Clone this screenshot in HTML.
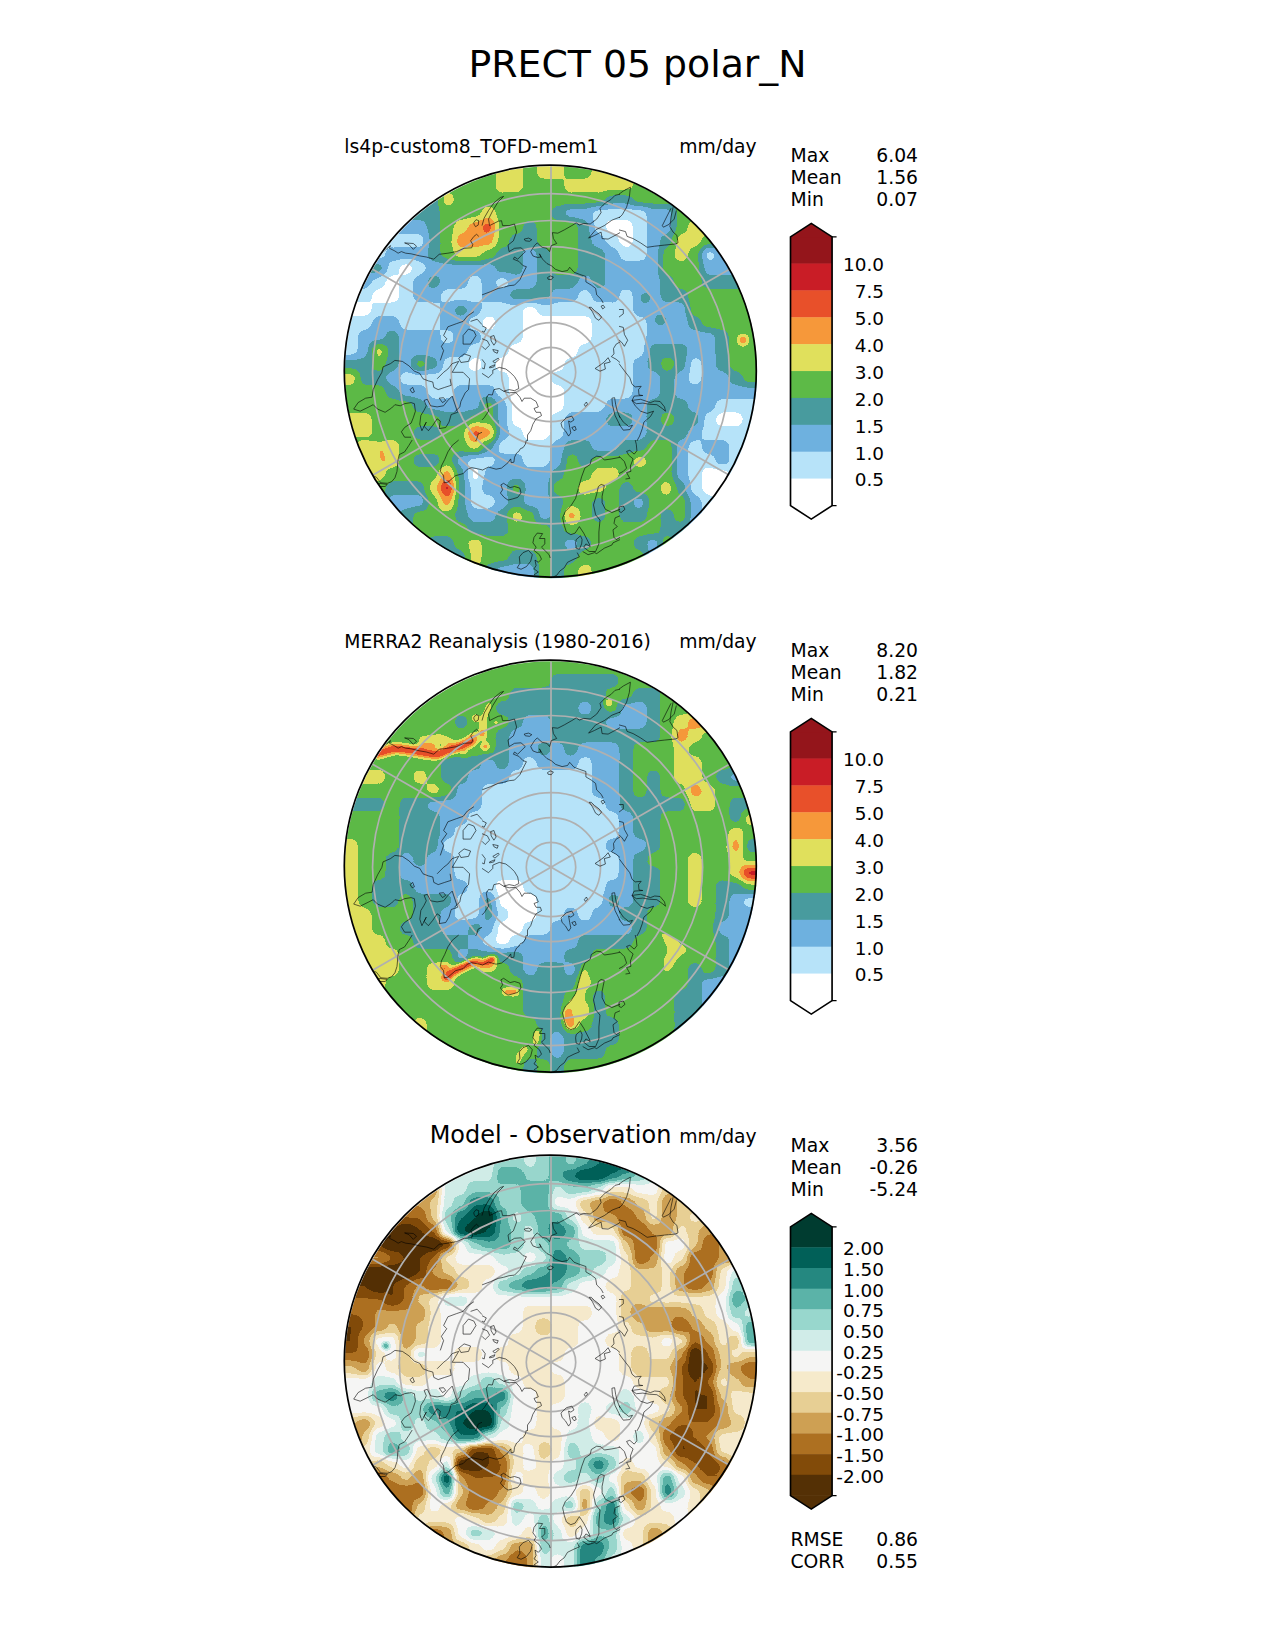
<!DOCTYPE html><html><head><meta charset="utf-8"><title>PRECT 05 polar_N</title>
<style>html,body{margin:0;padding:0;background:#fff}svg{display:block}text{font-family:"DejaVu Sans","Liberation Sans",sans-serif;fill:#000}</style></head><body>
<svg width="1275" height="1650" viewBox="0 0 1275 1650">
<rect width="1275" height="1650" fill="#fff"/>
<defs>
<filter id="f1b" x="0" y="0" width="1" height="1" color-interpolation-filters="sRGB"><feGaussianBlur stdDeviation="3.6"/></filter><filter id="f1" x="0" y="0" width="1" height="1" color-interpolation-filters="sRGB"><feGaussianBlur stdDeviation="2.2"/><feComponentTransfer><feFuncR type="discrete" tableValues="1.0000 0.7176 0.4314 0.2824 0.3647 0.8784 0.9647 0.9098 0.7882 0.5804"/><feFuncG type="discrete" tableValues="1.0000 0.8902 0.6941 0.6078 0.7294 0.8784 0.5961 0.3137 0.1137 0.0824"/><feFuncB type="discrete" tableValues="1.0000 0.9765 0.8745 0.6196 0.2784 0.3608 0.2275 0.1647 0.1490 0.1059"/><feFuncA type="linear" slope="0" intercept="1"/></feComponentTransfer></filter>
<filter id="f2b" x="0" y="0" width="1" height="1" color-interpolation-filters="sRGB"><feGaussianBlur stdDeviation="3.6"/></filter><filter id="f2" x="0" y="0" width="1" height="1" color-interpolation-filters="sRGB"><feGaussianBlur stdDeviation="2.2"/><feComponentTransfer><feFuncR type="discrete" tableValues="1.0000 0.7176 0.4314 0.2824 0.3647 0.8784 0.9647 0.9098 0.7882 0.5804"/><feFuncG type="discrete" tableValues="1.0000 0.8902 0.6941 0.6078 0.7294 0.8784 0.5961 0.3137 0.1137 0.0824"/><feFuncB type="discrete" tableValues="1.0000 0.9765 0.8745 0.6196 0.2784 0.3608 0.2275 0.1647 0.1490 0.1059"/><feFuncA type="linear" slope="0" intercept="1"/></feComponentTransfer></filter>
<filter id="f3b" x="0" y="0" width="1" height="1" color-interpolation-filters="sRGB"><feGaussianBlur stdDeviation="3.4"/></filter><filter id="f3" x="0" y="0" width="1" height="1" color-interpolation-filters="sRGB"><feGaussianBlur stdDeviation="2.2"/><feComponentTransfer><feFuncR type="linear" slope="1.1000" intercept="-0.0500"/><feFuncG type="linear" slope="1.1000" intercept="-0.0500"/><feFuncB type="linear" slope="1.1000" intercept="-0.0500"/></feComponentTransfer><feComponentTransfer><feFuncR type="discrete" tableValues="0.3294 0.5098 0.6784 0.8078 0.9059 0.9647 0.9608 0.8157 0.5961 0.3569 0.1451 0.0039 0.0000"/><feFuncG type="discrete" tableValues="0.1882 0.2941 0.4392 0.6275 0.8118 0.9176 0.9608 0.9255 0.8431 0.7020 0.5333 0.3765 0.2353"/><feFuncB type="discrete" tableValues="0.0196 0.0353 0.1294 0.3255 0.5804 0.7961 0.9569 0.9098 0.8039 0.6588 0.5020 0.3451 0.1882"/><feFuncA type="linear" slope="0" intercept="1"/></feComponentTransfer></filter>
<clipPath id="c1"><circle cx="551.00" cy="372.15" r="206.00"/></clipPath>
<clipPath id="c2"><circle cx="551.00" cy="867.15" r="206.00"/></clipPath>
<clipPath id="c3"><circle cx="551.00" cy="1362.15" r="206.00"/></clipPath>
</defs>
<text x="637.5" y="77.3" text-anchor="middle" style="font-size:37.8px">PRECT 05 polar_N</text>
<g clip-path="url(#c1)">
<g filter="url(#f1)">
<g filter="url(#f1b)">
<rect x="314.25" y="135.00" width="44.05" height="44.05" fill="#404040"/>
<rect x="358.00" y="135.00" width="82.80" height="44.05" fill="#595959"/>
<rect x="440.50" y="135.00" width="55.30" height="44.05" fill="#737373"/>
<rect x="495.50" y="135.00" width="27.80" height="44.05" fill="#8c8c8c"/>
<rect x="523.00" y="135.00" width="14.05" height="44.05" fill="#737373"/>
<rect x="536.75" y="135.00" width="27.80" height="44.05" fill="#8c8c8c"/>
<rect x="564.25" y="135.00" width="27.80" height="44.05" fill="#737373"/>
<rect x="591.75" y="135.00" width="55.30" height="44.05" fill="#8c8c8c"/>
<rect x="646.75" y="135.00" width="96.55" height="44.05" fill="#737373"/>
<rect x="743.00" y="135.00" width="44.05" height="44.05" fill="#8c8c8c"/>
<rect x="314.25" y="178.75" width="57.80" height="14.05" fill="#404040"/>
<rect x="371.75" y="178.75" width="69.05" height="14.05" fill="#595959"/>
<rect x="440.50" y="178.75" width="55.30" height="14.05" fill="#737373"/>
<rect x="495.50" y="178.75" width="27.80" height="14.05" fill="#8c8c8c"/>
<rect x="523.00" y="178.75" width="41.55" height="14.05" fill="#737373"/>
<rect x="564.25" y="178.75" width="69.05" height="14.05" fill="#8c8c8c"/>
<rect x="633.00" y="178.75" width="96.55" height="14.05" fill="#737373"/>
<rect x="729.25" y="178.75" width="57.80" height="14.05" fill="#8c8c8c"/>
<rect x="314.25" y="192.50" width="44.05" height="14.05" fill="#262626"/>
<rect x="358.00" y="192.50" width="27.80" height="14.05" fill="#404040"/>
<rect x="385.50" y="192.50" width="55.30" height="14.05" fill="#595959"/>
<rect x="440.50" y="192.50" width="14.05" height="14.05" fill="#8c8c8c"/>
<rect x="454.25" y="192.50" width="151.55" height="14.05" fill="#737373"/>
<rect x="605.50" y="192.50" width="27.80" height="14.05" fill="#595959"/>
<rect x="633.00" y="192.50" width="82.80" height="14.05" fill="#737373"/>
<rect x="715.50" y="192.50" width="27.80" height="14.05" fill="#8c8c8c"/>
<rect x="743.00" y="192.50" width="44.05" height="14.05" fill="#737373"/>
<rect x="314.25" y="206.25" width="57.80" height="14.05" fill="#262626"/>
<rect x="371.75" y="206.25" width="27.80" height="14.05" fill="#404040"/>
<rect x="399.25" y="206.25" width="41.55" height="14.05" fill="#595959"/>
<rect x="440.50" y="206.25" width="41.55" height="14.05" fill="#737373"/>
<rect x="481.75" y="206.25" width="14.05" height="14.05" fill="#8c8c8c"/>
<rect x="495.50" y="206.25" width="55.30" height="14.05" fill="#737373"/>
<rect x="550.50" y="206.25" width="14.05" height="14.05" fill="#595959"/>
<rect x="564.25" y="206.25" width="27.80" height="14.05" fill="#404040"/>
<rect x="591.75" y="206.25" width="55.30" height="14.05" fill="#262626"/>
<rect x="646.75" y="206.25" width="27.80" height="14.05" fill="#404040"/>
<rect x="674.25" y="206.25" width="27.80" height="14.05" fill="#737373"/>
<rect x="701.75" y="206.25" width="27.80" height="14.05" fill="#8c8c8c"/>
<rect x="729.25" y="206.25" width="57.80" height="14.05" fill="#737373"/>
<rect x="314.25" y="220.00" width="71.55" height="14.05" fill="#262626"/>
<rect x="385.50" y="220.00" width="41.55" height="14.05" fill="#404040"/>
<rect x="426.75" y="220.00" width="14.05" height="14.05" fill="#595959"/>
<rect x="440.50" y="220.00" width="14.05" height="14.05" fill="#737373"/>
<rect x="454.25" y="220.00" width="14.05" height="14.05" fill="#8c8c8c"/>
<rect x="468.00" y="220.00" width="14.05" height="14.05" fill="#a6a6a6"/>
<rect x="481.75" y="220.00" width="14.05" height="14.05" fill="#bfbfbf"/>
<rect x="495.50" y="220.00" width="27.80" height="14.05" fill="#737373"/>
<rect x="523.00" y="220.00" width="14.05" height="14.05" fill="#595959"/>
<rect x="536.75" y="220.00" width="41.55" height="14.05" fill="#737373"/>
<rect x="578.00" y="220.00" width="14.05" height="14.05" fill="#595959"/>
<rect x="591.75" y="220.00" width="14.05" height="14.05" fill="#262626"/>
<rect x="605.50" y="220.00" width="27.80" height="14.05" fill="#0d0d0d"/>
<rect x="633.00" y="220.00" width="14.05" height="14.05" fill="#262626"/>
<rect x="646.75" y="220.00" width="27.80" height="14.05" fill="#404040"/>
<rect x="674.25" y="220.00" width="14.05" height="14.05" fill="#737373"/>
<rect x="688.00" y="220.00" width="27.80" height="14.05" fill="#8c8c8c"/>
<rect x="715.50" y="220.00" width="27.80" height="14.05" fill="#737373"/>
<rect x="743.00" y="220.00" width="44.05" height="14.05" fill="#404040"/>
<rect x="314.25" y="233.75" width="112.80" height="14.05" fill="#262626"/>
<rect x="426.75" y="233.75" width="14.05" height="14.05" fill="#595959"/>
<rect x="440.50" y="233.75" width="14.05" height="14.05" fill="#737373"/>
<rect x="454.25" y="233.75" width="41.55" height="14.05" fill="#a6a6a6"/>
<rect x="495.50" y="233.75" width="14.05" height="14.05" fill="#737373"/>
<rect x="509.25" y="233.75" width="27.80" height="14.05" fill="#595959"/>
<rect x="536.75" y="233.75" width="41.55" height="14.05" fill="#737373"/>
<rect x="578.00" y="233.75" width="14.05" height="14.05" fill="#595959"/>
<rect x="591.75" y="233.75" width="14.05" height="14.05" fill="#404040"/>
<rect x="605.50" y="233.75" width="14.05" height="14.05" fill="#262626"/>
<rect x="619.25" y="233.75" width="14.05" height="14.05" fill="#0d0d0d"/>
<rect x="633.00" y="233.75" width="14.05" height="14.05" fill="#262626"/>
<rect x="646.75" y="233.75" width="14.05" height="14.05" fill="#404040"/>
<rect x="660.50" y="233.75" width="14.05" height="14.05" fill="#595959"/>
<rect x="674.25" y="233.75" width="27.80" height="14.05" fill="#8c8c8c"/>
<rect x="701.75" y="233.75" width="27.80" height="14.05" fill="#737373"/>
<rect x="729.25" y="233.75" width="57.80" height="14.05" fill="#404040"/>
<rect x="314.25" y="247.50" width="71.55" height="14.05" fill="#262626"/>
<rect x="385.50" y="247.50" width="41.55" height="14.05" fill="#404040"/>
<rect x="426.75" y="247.50" width="14.05" height="14.05" fill="#595959"/>
<rect x="440.50" y="247.50" width="14.05" height="14.05" fill="#737373"/>
<rect x="454.25" y="247.50" width="27.80" height="14.05" fill="#8c8c8c"/>
<rect x="481.75" y="247.50" width="14.05" height="14.05" fill="#737373"/>
<rect x="495.50" y="247.50" width="27.80" height="14.05" fill="#595959"/>
<rect x="523.00" y="247.50" width="14.05" height="14.05" fill="#404040"/>
<rect x="536.75" y="247.50" width="14.05" height="14.05" fill="#595959"/>
<rect x="550.50" y="247.50" width="27.80" height="14.05" fill="#737373"/>
<rect x="578.00" y="247.50" width="27.80" height="14.05" fill="#595959"/>
<rect x="605.50" y="247.50" width="14.05" height="14.05" fill="#404040"/>
<rect x="619.25" y="247.50" width="27.80" height="14.05" fill="#262626"/>
<rect x="646.75" y="247.50" width="14.05" height="14.05" fill="#404040"/>
<rect x="660.50" y="247.50" width="14.05" height="14.05" fill="#737373"/>
<rect x="674.25" y="247.50" width="14.05" height="14.05" fill="#8c8c8c"/>
<rect x="688.00" y="247.50" width="14.05" height="14.05" fill="#737373"/>
<rect x="701.75" y="247.50" width="14.05" height="14.05" fill="#262626"/>
<rect x="715.50" y="247.50" width="71.55" height="14.05" fill="#404040"/>
<rect x="314.25" y="261.25" width="44.05" height="14.05" fill="#404040"/>
<rect x="358.00" y="261.25" width="27.80" height="14.05" fill="#595959"/>
<rect x="385.50" y="261.25" width="14.05" height="14.05" fill="#262626"/>
<rect x="399.25" y="261.25" width="14.05" height="14.05" fill="#0d0d0d"/>
<rect x="413.00" y="261.25" width="14.05" height="14.05" fill="#262626"/>
<rect x="426.75" y="261.25" width="69.05" height="14.05" fill="#404040"/>
<rect x="495.50" y="261.25" width="27.80" height="14.05" fill="#595959"/>
<rect x="523.00" y="261.25" width="14.05" height="14.05" fill="#404040"/>
<rect x="536.75" y="261.25" width="14.05" height="14.05" fill="#595959"/>
<rect x="550.50" y="261.25" width="27.80" height="14.05" fill="#737373"/>
<rect x="578.00" y="261.25" width="27.80" height="14.05" fill="#595959"/>
<rect x="605.50" y="261.25" width="55.30" height="14.05" fill="#404040"/>
<rect x="660.50" y="261.25" width="41.55" height="14.05" fill="#737373"/>
<rect x="701.75" y="261.25" width="41.55" height="14.05" fill="#404040"/>
<rect x="743.00" y="261.25" width="44.05" height="14.05" fill="#595959"/>
<rect x="314.25" y="275.00" width="57.80" height="14.05" fill="#404040"/>
<rect x="371.75" y="275.00" width="14.05" height="14.05" fill="#262626"/>
<rect x="385.50" y="275.00" width="14.05" height="14.05" fill="#0d0d0d"/>
<rect x="399.25" y="275.00" width="14.05" height="14.05" fill="#262626"/>
<rect x="413.00" y="275.00" width="14.05" height="14.05" fill="#404040"/>
<rect x="426.75" y="275.00" width="14.05" height="14.05" fill="#595959"/>
<rect x="440.50" y="275.00" width="27.80" height="14.05" fill="#404040"/>
<rect x="468.00" y="275.00" width="14.05" height="14.05" fill="#262626"/>
<rect x="481.75" y="275.00" width="14.05" height="14.05" fill="#404040"/>
<rect x="495.50" y="275.00" width="14.05" height="14.05" fill="#262626"/>
<rect x="509.25" y="275.00" width="27.80" height="14.05" fill="#404040"/>
<rect x="536.75" y="275.00" width="41.55" height="14.05" fill="#595959"/>
<rect x="578.00" y="275.00" width="14.05" height="14.05" fill="#404040"/>
<rect x="591.75" y="275.00" width="14.05" height="14.05" fill="#595959"/>
<rect x="605.50" y="275.00" width="55.30" height="14.05" fill="#404040"/>
<rect x="660.50" y="275.00" width="14.05" height="14.05" fill="#595959"/>
<rect x="674.25" y="275.00" width="27.80" height="14.05" fill="#737373"/>
<rect x="701.75" y="275.00" width="85.30" height="14.05" fill="#595959"/>
<rect x="314.25" y="288.75" width="57.80" height="14.05" fill="#262626"/>
<rect x="371.75" y="288.75" width="27.80" height="14.05" fill="#0d0d0d"/>
<rect x="399.25" y="288.75" width="14.05" height="14.05" fill="#262626"/>
<rect x="413.00" y="288.75" width="27.80" height="14.05" fill="#404040"/>
<rect x="440.50" y="288.75" width="41.55" height="14.05" fill="#262626"/>
<rect x="481.75" y="288.75" width="27.80" height="14.05" fill="#404040"/>
<rect x="509.25" y="288.75" width="41.55" height="14.05" fill="#595959"/>
<rect x="550.50" y="288.75" width="27.80" height="14.05" fill="#404040"/>
<rect x="578.00" y="288.75" width="14.05" height="14.05" fill="#262626"/>
<rect x="591.75" y="288.75" width="27.80" height="14.05" fill="#404040"/>
<rect x="619.25" y="288.75" width="14.05" height="14.05" fill="#262626"/>
<rect x="633.00" y="288.75" width="27.80" height="14.05" fill="#404040"/>
<rect x="660.50" y="288.75" width="27.80" height="14.05" fill="#595959"/>
<rect x="688.00" y="288.75" width="99.05" height="14.05" fill="#737373"/>
<rect x="314.25" y="302.50" width="57.80" height="14.05" fill="#0d0d0d"/>
<rect x="371.75" y="302.50" width="69.05" height="14.05" fill="#262626"/>
<rect x="440.50" y="302.50" width="14.05" height="14.05" fill="#404040"/>
<rect x="454.25" y="302.50" width="14.05" height="14.05" fill="#595959"/>
<rect x="468.00" y="302.50" width="14.05" height="14.05" fill="#404040"/>
<rect x="481.75" y="302.50" width="41.55" height="14.05" fill="#262626"/>
<rect x="523.00" y="302.50" width="14.05" height="14.05" fill="#0d0d0d"/>
<rect x="536.75" y="302.50" width="96.55" height="14.05" fill="#262626"/>
<rect x="633.00" y="302.50" width="55.30" height="14.05" fill="#404040"/>
<rect x="688.00" y="302.50" width="99.05" height="14.05" fill="#737373"/>
<rect x="314.25" y="316.25" width="57.80" height="14.05" fill="#262626"/>
<rect x="371.75" y="316.25" width="27.80" height="14.05" fill="#404040"/>
<rect x="399.25" y="316.25" width="41.55" height="14.05" fill="#262626"/>
<rect x="440.50" y="316.25" width="27.80" height="14.05" fill="#404040"/>
<rect x="468.00" y="316.25" width="14.05" height="14.05" fill="#262626"/>
<rect x="481.75" y="316.25" width="14.05" height="14.05" fill="#0d0d0d"/>
<rect x="495.50" y="316.25" width="27.80" height="14.05" fill="#262626"/>
<rect x="523.00" y="316.25" width="69.05" height="14.05" fill="#0d0d0d"/>
<rect x="591.75" y="316.25" width="55.30" height="14.05" fill="#262626"/>
<rect x="646.75" y="316.25" width="41.55" height="14.05" fill="#404040"/>
<rect x="688.00" y="316.25" width="14.05" height="14.05" fill="#595959"/>
<rect x="701.75" y="316.25" width="85.30" height="14.05" fill="#737373"/>
<rect x="314.25" y="330.00" width="44.05" height="14.05" fill="#262626"/>
<rect x="358.00" y="330.00" width="27.80" height="14.05" fill="#404040"/>
<rect x="385.50" y="330.00" width="14.05" height="14.05" fill="#595959"/>
<rect x="399.25" y="330.00" width="41.55" height="14.05" fill="#404040"/>
<rect x="440.50" y="330.00" width="14.05" height="14.05" fill="#262626"/>
<rect x="454.25" y="330.00" width="27.80" height="14.05" fill="#404040"/>
<rect x="481.75" y="330.00" width="41.55" height="14.05" fill="#262626"/>
<rect x="523.00" y="330.00" width="69.05" height="14.05" fill="#0d0d0d"/>
<rect x="591.75" y="330.00" width="55.30" height="14.05" fill="#262626"/>
<rect x="646.75" y="330.00" width="69.05" height="14.05" fill="#404040"/>
<rect x="715.50" y="330.00" width="14.05" height="14.05" fill="#595959"/>
<rect x="729.25" y="330.00" width="57.80" height="14.05" fill="#737373"/>
<rect x="314.25" y="343.75" width="44.05" height="14.05" fill="#262626"/>
<rect x="358.00" y="343.75" width="14.05" height="14.05" fill="#404040"/>
<rect x="371.75" y="343.75" width="14.05" height="14.05" fill="#8c8c8c"/>
<rect x="385.50" y="343.75" width="14.05" height="14.05" fill="#595959"/>
<rect x="399.25" y="343.75" width="69.05" height="14.05" fill="#404040"/>
<rect x="468.00" y="343.75" width="41.55" height="14.05" fill="#262626"/>
<rect x="509.25" y="343.75" width="69.05" height="14.05" fill="#0d0d0d"/>
<rect x="578.00" y="343.75" width="69.05" height="14.05" fill="#262626"/>
<rect x="646.75" y="343.75" width="41.55" height="14.05" fill="#595959"/>
<rect x="688.00" y="343.75" width="27.80" height="14.05" fill="#404040"/>
<rect x="715.50" y="343.75" width="14.05" height="14.05" fill="#595959"/>
<rect x="729.25" y="343.75" width="57.80" height="14.05" fill="#737373"/>
<rect x="314.25" y="357.50" width="57.80" height="14.05" fill="#595959"/>
<rect x="371.75" y="357.50" width="14.05" height="14.05" fill="#737373"/>
<rect x="385.50" y="357.50" width="14.05" height="14.05" fill="#595959"/>
<rect x="399.25" y="357.50" width="14.05" height="14.05" fill="#404040"/>
<rect x="413.00" y="357.50" width="14.05" height="14.05" fill="#737373"/>
<rect x="426.75" y="357.50" width="14.05" height="14.05" fill="#595959"/>
<rect x="440.50" y="357.50" width="27.80" height="14.05" fill="#262626"/>
<rect x="468.00" y="357.50" width="14.05" height="14.05" fill="#0d0d0d"/>
<rect x="481.75" y="357.50" width="14.05" height="14.05" fill="#262626"/>
<rect x="495.50" y="357.50" width="69.05" height="14.05" fill="#0d0d0d"/>
<rect x="564.25" y="357.50" width="69.05" height="14.05" fill="#262626"/>
<rect x="633.00" y="357.50" width="14.05" height="14.05" fill="#404040"/>
<rect x="646.75" y="357.50" width="14.05" height="14.05" fill="#595959"/>
<rect x="660.50" y="357.50" width="14.05" height="14.05" fill="#737373"/>
<rect x="674.25" y="357.50" width="14.05" height="14.05" fill="#595959"/>
<rect x="688.00" y="357.50" width="14.05" height="14.05" fill="#262626"/>
<rect x="701.75" y="357.50" width="14.05" height="14.05" fill="#404040"/>
<rect x="715.50" y="357.50" width="14.05" height="14.05" fill="#595959"/>
<rect x="729.25" y="357.50" width="57.80" height="14.05" fill="#737373"/>
<rect x="314.25" y="371.25" width="44.05" height="14.05" fill="#8c8c8c"/>
<rect x="358.00" y="371.25" width="27.80" height="14.05" fill="#595959"/>
<rect x="385.50" y="371.25" width="14.05" height="14.05" fill="#404040"/>
<rect x="399.25" y="371.25" width="110.30" height="14.05" fill="#262626"/>
<rect x="509.25" y="371.25" width="41.55" height="14.05" fill="#0d0d0d"/>
<rect x="550.50" y="371.25" width="82.80" height="14.05" fill="#262626"/>
<rect x="633.00" y="371.25" width="27.80" height="14.05" fill="#404040"/>
<rect x="660.50" y="371.25" width="14.05" height="14.05" fill="#595959"/>
<rect x="674.25" y="371.25" width="14.05" height="14.05" fill="#404040"/>
<rect x="688.00" y="371.25" width="14.05" height="14.05" fill="#262626"/>
<rect x="701.75" y="371.25" width="27.80" height="14.05" fill="#404040"/>
<rect x="729.25" y="371.25" width="14.05" height="14.05" fill="#595959"/>
<rect x="743.00" y="371.25" width="44.05" height="14.05" fill="#737373"/>
<rect x="314.25" y="385.00" width="71.55" height="14.05" fill="#737373"/>
<rect x="385.50" y="385.00" width="14.05" height="14.05" fill="#595959"/>
<rect x="399.25" y="385.00" width="27.80" height="14.05" fill="#404040"/>
<rect x="426.75" y="385.00" width="27.80" height="14.05" fill="#262626"/>
<rect x="454.25" y="385.00" width="41.55" height="14.05" fill="#404040"/>
<rect x="495.50" y="385.00" width="14.05" height="14.05" fill="#262626"/>
<rect x="509.25" y="385.00" width="55.30" height="14.05" fill="#0d0d0d"/>
<rect x="564.25" y="385.00" width="69.05" height="14.05" fill="#262626"/>
<rect x="633.00" y="385.00" width="27.80" height="14.05" fill="#404040"/>
<rect x="660.50" y="385.00" width="14.05" height="14.05" fill="#595959"/>
<rect x="674.25" y="385.00" width="112.80" height="14.05" fill="#404040"/>
<rect x="314.25" y="398.75" width="99.05" height="14.05" fill="#737373"/>
<rect x="413.00" y="398.75" width="14.05" height="14.05" fill="#595959"/>
<rect x="426.75" y="398.75" width="55.30" height="14.05" fill="#404040"/>
<rect x="481.75" y="398.75" width="14.05" height="14.05" fill="#737373"/>
<rect x="495.50" y="398.75" width="14.05" height="14.05" fill="#404040"/>
<rect x="509.25" y="398.75" width="55.30" height="14.05" fill="#0d0d0d"/>
<rect x="564.25" y="398.75" width="41.55" height="14.05" fill="#262626"/>
<rect x="605.50" y="398.75" width="41.55" height="14.05" fill="#404040"/>
<rect x="646.75" y="398.75" width="41.55" height="14.05" fill="#595959"/>
<rect x="688.00" y="398.75" width="27.80" height="14.05" fill="#404040"/>
<rect x="715.50" y="398.75" width="71.55" height="14.05" fill="#262626"/>
<rect x="314.25" y="412.50" width="57.80" height="14.05" fill="#8c8c8c"/>
<rect x="371.75" y="412.50" width="69.05" height="14.05" fill="#737373"/>
<rect x="440.50" y="412.50" width="27.80" height="14.05" fill="#595959"/>
<rect x="468.00" y="412.50" width="27.80" height="14.05" fill="#737373"/>
<rect x="495.50" y="412.50" width="14.05" height="14.05" fill="#404040"/>
<rect x="509.25" y="412.50" width="41.55" height="14.05" fill="#0d0d0d"/>
<rect x="550.50" y="412.50" width="14.05" height="14.05" fill="#262626"/>
<rect x="564.25" y="412.50" width="41.55" height="14.05" fill="#404040"/>
<rect x="605.50" y="412.50" width="27.80" height="14.05" fill="#595959"/>
<rect x="633.00" y="412.50" width="14.05" height="14.05" fill="#404040"/>
<rect x="646.75" y="412.50" width="14.05" height="14.05" fill="#595959"/>
<rect x="660.50" y="412.50" width="14.05" height="14.05" fill="#737373"/>
<rect x="674.25" y="412.50" width="27.80" height="14.05" fill="#595959"/>
<rect x="701.75" y="412.50" width="14.05" height="14.05" fill="#262626"/>
<rect x="715.50" y="412.50" width="27.80" height="14.05" fill="#0d0d0d"/>
<rect x="743.00" y="412.50" width="44.05" height="14.05" fill="#262626"/>
<rect x="314.25" y="426.25" width="57.80" height="14.05" fill="#8c8c8c"/>
<rect x="371.75" y="426.25" width="41.55" height="14.05" fill="#737373"/>
<rect x="413.00" y="426.25" width="27.80" height="14.05" fill="#595959"/>
<rect x="440.50" y="426.25" width="27.80" height="14.05" fill="#737373"/>
<rect x="468.00" y="426.25" width="14.05" height="14.05" fill="#bfbfbf"/>
<rect x="481.75" y="426.25" width="14.05" height="14.05" fill="#a6a6a6"/>
<rect x="495.50" y="426.25" width="14.05" height="14.05" fill="#404040"/>
<rect x="509.25" y="426.25" width="14.05" height="14.05" fill="#262626"/>
<rect x="523.00" y="426.25" width="27.80" height="14.05" fill="#0d0d0d"/>
<rect x="550.50" y="426.25" width="14.05" height="14.05" fill="#262626"/>
<rect x="564.25" y="426.25" width="82.80" height="14.05" fill="#404040"/>
<rect x="646.75" y="426.25" width="41.55" height="14.05" fill="#595959"/>
<rect x="688.00" y="426.25" width="14.05" height="14.05" fill="#404040"/>
<rect x="701.75" y="426.25" width="85.30" height="14.05" fill="#262626"/>
<rect x="314.25" y="440.00" width="44.05" height="14.05" fill="#737373"/>
<rect x="358.00" y="440.00" width="41.55" height="14.05" fill="#8c8c8c"/>
<rect x="399.25" y="440.00" width="69.05" height="14.05" fill="#737373"/>
<rect x="468.00" y="440.00" width="14.05" height="14.05" fill="#8c8c8c"/>
<rect x="481.75" y="440.00" width="14.05" height="14.05" fill="#595959"/>
<rect x="495.50" y="440.00" width="55.30" height="14.05" fill="#262626"/>
<rect x="550.50" y="440.00" width="14.05" height="14.05" fill="#404040"/>
<rect x="564.25" y="440.00" width="27.80" height="14.05" fill="#595959"/>
<rect x="591.75" y="440.00" width="27.80" height="14.05" fill="#404040"/>
<rect x="619.25" y="440.00" width="27.80" height="14.05" fill="#595959"/>
<rect x="646.75" y="440.00" width="27.80" height="14.05" fill="#737373"/>
<rect x="674.25" y="440.00" width="14.05" height="14.05" fill="#404040"/>
<rect x="688.00" y="440.00" width="14.05" height="14.05" fill="#262626"/>
<rect x="701.75" y="440.00" width="27.80" height="14.05" fill="#404040"/>
<rect x="729.25" y="440.00" width="57.80" height="14.05" fill="#262626"/>
<rect x="314.25" y="453.75" width="44.05" height="14.05" fill="#737373"/>
<rect x="358.00" y="453.75" width="41.55" height="14.05" fill="#8c8c8c"/>
<rect x="399.25" y="453.75" width="14.05" height="14.05" fill="#737373"/>
<rect x="413.00" y="453.75" width="27.80" height="14.05" fill="#595959"/>
<rect x="440.50" y="453.75" width="14.05" height="14.05" fill="#737373"/>
<rect x="454.25" y="453.75" width="14.05" height="14.05" fill="#404040"/>
<rect x="468.00" y="453.75" width="27.80" height="14.05" fill="#262626"/>
<rect x="495.50" y="453.75" width="27.80" height="14.05" fill="#404040"/>
<rect x="523.00" y="453.75" width="27.80" height="14.05" fill="#262626"/>
<rect x="550.50" y="453.75" width="14.05" height="14.05" fill="#404040"/>
<rect x="564.25" y="453.75" width="14.05" height="14.05" fill="#737373"/>
<rect x="578.00" y="453.75" width="14.05" height="14.05" fill="#595959"/>
<rect x="591.75" y="453.75" width="41.55" height="14.05" fill="#737373"/>
<rect x="633.00" y="453.75" width="14.05" height="14.05" fill="#8c8c8c"/>
<rect x="646.75" y="453.75" width="27.80" height="14.05" fill="#737373"/>
<rect x="674.25" y="453.75" width="14.05" height="14.05" fill="#404040"/>
<rect x="688.00" y="453.75" width="27.80" height="14.05" fill="#262626"/>
<rect x="715.50" y="453.75" width="14.05" height="14.05" fill="#404040"/>
<rect x="729.25" y="453.75" width="57.80" height="14.05" fill="#262626"/>
<rect x="314.25" y="467.50" width="71.55" height="14.05" fill="#8c8c8c"/>
<rect x="385.50" y="467.50" width="55.30" height="14.05" fill="#737373"/>
<rect x="440.50" y="467.50" width="14.05" height="14.05" fill="#a6a6a6"/>
<rect x="454.25" y="467.50" width="14.05" height="14.05" fill="#595959"/>
<rect x="468.00" y="467.50" width="14.05" height="14.05" fill="#0d0d0d"/>
<rect x="481.75" y="467.50" width="69.05" height="14.05" fill="#404040"/>
<rect x="550.50" y="467.50" width="14.05" height="14.05" fill="#595959"/>
<rect x="564.25" y="467.50" width="27.80" height="14.05" fill="#737373"/>
<rect x="591.75" y="467.50" width="27.80" height="14.05" fill="#8c8c8c"/>
<rect x="619.25" y="467.50" width="55.30" height="14.05" fill="#737373"/>
<rect x="674.25" y="467.50" width="14.05" height="14.05" fill="#404040"/>
<rect x="688.00" y="467.50" width="14.05" height="14.05" fill="#262626"/>
<rect x="701.75" y="467.50" width="27.80" height="14.05" fill="#0d0d0d"/>
<rect x="729.25" y="467.50" width="57.80" height="14.05" fill="#262626"/>
<rect x="314.25" y="481.25" width="71.55" height="14.05" fill="#737373"/>
<rect x="385.50" y="481.25" width="41.55" height="14.05" fill="#595959"/>
<rect x="426.75" y="481.25" width="14.05" height="14.05" fill="#8c8c8c"/>
<rect x="440.50" y="481.25" width="14.05" height="14.05" fill="#d9d9d9"/>
<rect x="454.25" y="481.25" width="14.05" height="14.05" fill="#595959"/>
<rect x="468.00" y="481.25" width="14.05" height="14.05" fill="#262626"/>
<rect x="481.75" y="481.25" width="27.80" height="14.05" fill="#404040"/>
<rect x="509.25" y="481.25" width="14.05" height="14.05" fill="#737373"/>
<rect x="523.00" y="481.25" width="27.80" height="14.05" fill="#404040"/>
<rect x="550.50" y="481.25" width="27.80" height="14.05" fill="#737373"/>
<rect x="578.00" y="481.25" width="27.80" height="14.05" fill="#8c8c8c"/>
<rect x="605.50" y="481.25" width="14.05" height="14.05" fill="#737373"/>
<rect x="619.25" y="481.25" width="14.05" height="14.05" fill="#595959"/>
<rect x="633.00" y="481.25" width="27.80" height="14.05" fill="#737373"/>
<rect x="660.50" y="481.25" width="14.05" height="14.05" fill="#8c8c8c"/>
<rect x="674.25" y="481.25" width="14.05" height="14.05" fill="#595959"/>
<rect x="688.00" y="481.25" width="14.05" height="14.05" fill="#262626"/>
<rect x="701.75" y="481.25" width="85.30" height="14.05" fill="#0d0d0d"/>
<rect x="314.25" y="495.00" width="71.55" height="14.05" fill="#737373"/>
<rect x="385.50" y="495.00" width="41.55" height="14.05" fill="#404040"/>
<rect x="426.75" y="495.00" width="14.05" height="14.05" fill="#737373"/>
<rect x="440.50" y="495.00" width="14.05" height="14.05" fill="#a6a6a6"/>
<rect x="454.25" y="495.00" width="14.05" height="14.05" fill="#595959"/>
<rect x="468.00" y="495.00" width="27.80" height="14.05" fill="#262626"/>
<rect x="495.50" y="495.00" width="14.05" height="14.05" fill="#404040"/>
<rect x="509.25" y="495.00" width="14.05" height="14.05" fill="#595959"/>
<rect x="523.00" y="495.00" width="27.80" height="14.05" fill="#404040"/>
<rect x="550.50" y="495.00" width="14.05" height="14.05" fill="#595959"/>
<rect x="564.25" y="495.00" width="27.80" height="14.05" fill="#737373"/>
<rect x="591.75" y="495.00" width="14.05" height="14.05" fill="#595959"/>
<rect x="605.50" y="495.00" width="14.05" height="14.05" fill="#737373"/>
<rect x="619.25" y="495.00" width="14.05" height="14.05" fill="#595959"/>
<rect x="633.00" y="495.00" width="14.05" height="14.05" fill="#404040"/>
<rect x="646.75" y="495.00" width="41.55" height="14.05" fill="#737373"/>
<rect x="688.00" y="495.00" width="14.05" height="14.05" fill="#404040"/>
<rect x="701.75" y="495.00" width="14.05" height="14.05" fill="#262626"/>
<rect x="715.50" y="495.00" width="71.55" height="14.05" fill="#0d0d0d"/>
<rect x="314.25" y="508.75" width="57.80" height="14.05" fill="#737373"/>
<rect x="371.75" y="508.75" width="27.80" height="14.05" fill="#404040"/>
<rect x="399.25" y="508.75" width="14.05" height="14.05" fill="#595959"/>
<rect x="413.00" y="508.75" width="41.55" height="14.05" fill="#737373"/>
<rect x="454.25" y="508.75" width="14.05" height="14.05" fill="#595959"/>
<rect x="468.00" y="508.75" width="27.80" height="14.05" fill="#404040"/>
<rect x="495.50" y="508.75" width="14.05" height="14.05" fill="#595959"/>
<rect x="509.25" y="508.75" width="14.05" height="14.05" fill="#8c8c8c"/>
<rect x="523.00" y="508.75" width="14.05" height="14.05" fill="#737373"/>
<rect x="536.75" y="508.75" width="14.05" height="14.05" fill="#404040"/>
<rect x="550.50" y="508.75" width="14.05" height="14.05" fill="#595959"/>
<rect x="564.25" y="508.75" width="14.05" height="14.05" fill="#a6a6a6"/>
<rect x="578.00" y="508.75" width="14.05" height="14.05" fill="#737373"/>
<rect x="591.75" y="508.75" width="14.05" height="14.05" fill="#595959"/>
<rect x="605.50" y="508.75" width="14.05" height="14.05" fill="#737373"/>
<rect x="619.25" y="508.75" width="27.80" height="14.05" fill="#595959"/>
<rect x="646.75" y="508.75" width="14.05" height="14.05" fill="#737373"/>
<rect x="660.50" y="508.75" width="14.05" height="14.05" fill="#595959"/>
<rect x="674.25" y="508.75" width="14.05" height="14.05" fill="#737373"/>
<rect x="688.00" y="508.75" width="14.05" height="14.05" fill="#404040"/>
<rect x="701.75" y="508.75" width="27.80" height="14.05" fill="#262626"/>
<rect x="729.25" y="508.75" width="57.80" height="14.05" fill="#0d0d0d"/>
<rect x="314.25" y="522.50" width="44.05" height="14.05" fill="#737373"/>
<rect x="358.00" y="522.50" width="27.80" height="14.05" fill="#404040"/>
<rect x="385.50" y="522.50" width="27.80" height="14.05" fill="#595959"/>
<rect x="413.00" y="522.50" width="55.30" height="14.05" fill="#737373"/>
<rect x="468.00" y="522.50" width="41.55" height="14.05" fill="#595959"/>
<rect x="509.25" y="522.50" width="41.55" height="14.05" fill="#737373"/>
<rect x="550.50" y="522.50" width="14.05" height="14.05" fill="#595959"/>
<rect x="564.25" y="522.50" width="96.55" height="14.05" fill="#737373"/>
<rect x="660.50" y="522.50" width="27.80" height="14.05" fill="#595959"/>
<rect x="688.00" y="522.50" width="27.80" height="14.05" fill="#404040"/>
<rect x="715.50" y="522.50" width="27.80" height="14.05" fill="#262626"/>
<rect x="743.00" y="522.50" width="44.05" height="14.05" fill="#0d0d0d"/>
<rect x="314.25" y="536.25" width="57.80" height="14.05" fill="#404040"/>
<rect x="371.75" y="536.25" width="27.80" height="14.05" fill="#595959"/>
<rect x="399.25" y="536.25" width="27.80" height="14.05" fill="#737373"/>
<rect x="426.75" y="536.25" width="27.80" height="14.05" fill="#595959"/>
<rect x="454.25" y="536.25" width="14.05" height="14.05" fill="#737373"/>
<rect x="468.00" y="536.25" width="14.05" height="14.05" fill="#8c8c8c"/>
<rect x="481.75" y="536.25" width="69.05" height="14.05" fill="#737373"/>
<rect x="550.50" y="536.25" width="14.05" height="14.05" fill="#595959"/>
<rect x="564.25" y="536.25" width="14.05" height="14.05" fill="#404040"/>
<rect x="578.00" y="536.25" width="14.05" height="14.05" fill="#595959"/>
<rect x="591.75" y="536.25" width="41.55" height="14.05" fill="#737373"/>
<rect x="633.00" y="536.25" width="14.05" height="14.05" fill="#595959"/>
<rect x="646.75" y="536.25" width="14.05" height="14.05" fill="#404040"/>
<rect x="660.50" y="536.25" width="14.05" height="14.05" fill="#737373"/>
<rect x="674.25" y="536.25" width="27.80" height="14.05" fill="#595959"/>
<rect x="701.75" y="536.25" width="27.80" height="14.05" fill="#404040"/>
<rect x="729.25" y="536.25" width="57.80" height="14.05" fill="#262626"/>
<rect x="314.25" y="550.00" width="44.05" height="14.05" fill="#404040"/>
<rect x="358.00" y="550.00" width="27.80" height="14.05" fill="#595959"/>
<rect x="385.50" y="550.00" width="27.80" height="14.05" fill="#737373"/>
<rect x="413.00" y="550.00" width="55.30" height="14.05" fill="#595959"/>
<rect x="468.00" y="550.00" width="14.05" height="14.05" fill="#8c8c8c"/>
<rect x="481.75" y="550.00" width="27.80" height="14.05" fill="#737373"/>
<rect x="509.25" y="550.00" width="27.80" height="14.05" fill="#595959"/>
<rect x="536.75" y="550.00" width="14.05" height="14.05" fill="#737373"/>
<rect x="550.50" y="550.00" width="27.80" height="14.05" fill="#595959"/>
<rect x="578.00" y="550.00" width="69.05" height="14.05" fill="#737373"/>
<rect x="646.75" y="550.00" width="14.05" height="14.05" fill="#404040"/>
<rect x="660.50" y="550.00" width="27.80" height="14.05" fill="#737373"/>
<rect x="688.00" y="550.00" width="27.80" height="14.05" fill="#595959"/>
<rect x="715.50" y="550.00" width="27.80" height="14.05" fill="#404040"/>
<rect x="743.00" y="550.00" width="44.05" height="14.05" fill="#262626"/>
<rect x="314.25" y="563.75" width="57.80" height="44.05" fill="#595959"/>
<rect x="371.75" y="563.75" width="27.80" height="44.05" fill="#737373"/>
<rect x="399.25" y="563.75" width="69.05" height="44.05" fill="#595959"/>
<rect x="468.00" y="563.75" width="14.05" height="44.05" fill="#8c8c8c"/>
<rect x="481.75" y="563.75" width="14.05" height="44.05" fill="#595959"/>
<rect x="495.50" y="563.75" width="41.55" height="44.05" fill="#404040"/>
<rect x="536.75" y="563.75" width="14.05" height="44.05" fill="#737373"/>
<rect x="550.50" y="563.75" width="14.05" height="44.05" fill="#595959"/>
<rect x="564.25" y="563.75" width="14.05" height="44.05" fill="#737373"/>
<rect x="578.00" y="563.75" width="14.05" height="44.05" fill="#8c8c8c"/>
<rect x="591.75" y="563.75" width="110.30" height="44.05" fill="#737373"/>
<rect x="701.75" y="563.75" width="27.80" height="44.05" fill="#595959"/>
<rect x="729.25" y="563.75" width="57.80" height="44.05" fill="#404040"/>
</g>
<circle cx="743.0" cy="340.0" r="5.5" fill="#a3a3a3"/>
<polyline points="349.0,438.0 383.0,439.5" fill="none" stroke="#787878" stroke-width="4.5" stroke-linecap="round" stroke-linejoin="round"/>
<polyline points="381.0,451.0 383.5,461.0" fill="none" stroke="#b2b2b2" stroke-width="3" stroke-linecap="round" stroke-linejoin="round"/>
<circle cx="645.3" cy="298.0" r="4.5" fill="#636363"/>
<circle cx="660.4" cy="320.0" r="5" fill="#636363"/>
</g>
<g fill="none" stroke="#b0b0b0" stroke-width="1.7"><circle cx="551.00" cy="372.15" r="24.71"/><circle cx="551.00" cy="372.15" r="49.52"/><circle cx="551.00" cy="372.15" r="74.51"/><circle cx="551.00" cy="372.15" r="99.80"/><circle cx="551.00" cy="372.15" r="125.47"/><circle cx="551.00" cy="372.15" r="151.65"/><circle cx="551.00" cy="372.15" r="178.45"/><path d="M551.00 166.15 L551.00 578.15"/><path d="M372.60 269.15 L729.40 475.15"/><path d="M372.60 475.15 L729.40 269.15"/></g>

<g transform="translate(0 -495.00)"><path d="M383.5 746.6 L390.5 740.6 L389.5 743.3 L394.9 746.0 L398.1 748.2 L401.4 746.6 L405.7 748.2 L411.1 748.8 L419.8 750.9 L426.3 752.0 L433.8 754.2 L439.2 749.3 L447.9 748.2 L456.6 746.6 L464.1 743.3 L471.7 742.8 L472.8 739.6 L470.6 735.8 L473.9 731.4 L476.6 729.3 L478.8 731.4 M404.6 737.9 L413.3 738.5 L416.5 741.2 L413.3 744.4 L408.9 739.6 Z M473.9 717.4 L476.0 714.7 L478.8 715.7 L478.2 720.1 L475.5 721.7 L473.9 719.0 Z M482.0 720.6 L484.2 713.0 L488.5 705.5 L493.9 697.9 L500.4 692.5 L503.6 691.4 L498.2 696.8 L492.8 705.5 L488.5 714.1 L489.6 720.6 L493.9 718.4 L498.2 716.3 L501.5 715.7 L502.6 720.6 L509.1 720.6 L514.5 719.0 L516.6 727.1 L513.4 735.8 L508.0 740.1 L509.1 746.6 L514.5 743.3 L521.0 742.8 L525.3 746.6 L517.7 754.2 L514.5 752.0 L513.4 754.2 L518.8 756.3 L523.1 760.7 L526.4 761.7 L523.1 768.2 L519.9 774.7 L514.5 780.1 L509.1 780.7 L503.6 782.3 L498.2 783.4 L490.7 786.6 L482.0 789.9 M524.2 734.1 L528.5 733.1 L531.8 734.7 L529.6 736.3 L525.3 735.8 Z M620.0 689.2 L615.1 690.3 L610.8 694.6 L605.4 697.9 L600.0 703.3 L601.1 707.6 L596.7 714.1 L590.2 719.0 L583.7 718.4 L579.4 720.1 L576.2 717.9 L571.8 720.6 L564.3 724.9 L557.8 728.2 L552.4 727.6 L553.4 733.6 L556.7 738.5 L551.3 740.6 L549.6 746.6 L546.9 743.3 L542.1 742.3 L537.2 737.9 L534.5 740.6 L530.7 746.6 L532.9 750.9 L537.2 752.5 L541.0 752.0 L539.4 748.8 L542.6 754.2 L546.9 758.5 L551.3 760.7 L555.6 764.4 L562.1 766.6 L567.5 765.5 L569.7 762.3 L574.0 767.2 L579.4 769.3 L585.9 771.5 L585.9 776.9 L591.3 780.1 L595.6 783.4 L596.7 789.9 L601.1 794.2 L603.2 798.0 M547.5 772.6 L550.2 770.9 L553.4 772.0 L551.3 774.7 L548.0 774.2 Z M620.0 712.0 L611.9 715.2 L604.3 720.6 L595.6 724.9 L588.6 733.1 L594.6 730.4 L601.1 727.1 L602.1 733.6 L608.1 734.1 L616.2 729.8 L620.0 727.6 M619.0 689.2 L623.3 686.0 L630.4 682.2 L629.3 692.5 L626.6 702.2 L622.2 709.8 L619.0 713.0 M619.0 724.9 L625.5 726.6 L627.1 731.4 L633.1 733.6 L640.6 737.9 L647.1 742.3 L654.7 741.2 L664.5 740.1 L675.3 739.0 L678.0 737.9 L676.9 730.4 L673.1 727.1 L669.9 721.7 L671.0 712.0 L673.1 702.2 M676.4 705.5 L674.2 714.1 L668.8 719.5 L663.4 722.2 L662.3 720.6 L666.6 712.0 L671.0 703.3 M353.7 904.1 L358.1 897.6 L365.6 893.2 L372.1 892.2 L373.2 884.6 L377.6 874.8 L381.9 867.3 L383.0 861.9 L390.5 858.6 L394.9 855.4 L402.4 856.4 L408.9 860.8 L414.4 866.2 L419.8 868.4 L423.0 873.8 L428.4 875.9 L432.8 877.0 L433.8 882.4 L438.2 884.6 L444.7 882.4 L451.2 880.3 L450.1 873.8 M353.7 904.1 L360.2 906.2 L368.9 901.9 L373.2 899.7 L377.6 904.1 L385.1 907.3 L391.6 903.0 L394.9 899.7 L400.3 900.8 L404.6 898.7 L411.1 897.6 L414.4 898.7 L415.4 906.2 L413.3 912.7 L411.1 918.1 L404.6 922.5 L401.4 926.8 L404.6 932.2 L411.1 932.2 M420.8 910.6 L424.1 905.2 L426.3 900.8 L424.1 895.4 L427.3 894.3 L430.6 900.8 L437.1 901.9 L443.6 900.8 L447.9 895.4 L452.2 891.1 L457.6 907.3 L451.2 909.5 L449.0 917.1 L445.7 922.5 L439.2 923.6 L440.3 916.0 L437.1 913.8 L432.8 920.3 L428.4 925.7 L424.1 921.4 L426.3 917.1 L421.9 925.7 L419.8 919.2 Z M440.3 855.4 L443.6 845.6 L441.4 841.3 L446.8 833.7 L443.6 830.5 L447.9 821.8 L456.6 818.6 L463.1 816.4 L467.4 811.0 L473.9 806.7 M437.1 873.8 L443.6 867.3 L447.9 864.0 L452.2 858.6 L458.7 856.4 L452.2 867.3 L463.1 867.3 L469.6 873.8 L468.5 884.6 L465.2 887.8 L460.9 896.5 L459.8 901.9 L454.4 907.3 M470.6 816.4 L477.1 814.2 L482.0 819.6 M458.7 853.2 L464.1 848.9 L470.6 851.0 L468.5 856.4 L460.9 857.5 Z M463.1 830.5 L468.5 824.0 L473.9 826.1 L476.0 830.5 L470.6 839.1 L463.1 839.1 Z M439.2 893.2 L443.6 892.7 L445.7 895.4 L442.5 897.6 Z M410.0 884.6 L412.7 882.4 L414.4 886.8 L412.2 887.8 Z M482.0 927.3 L478.2 929.0 L476.6 934.4 L475.5 936.0 M482.0 868.4 L488.5 872.7 L492.8 868.4 L492.8 865.1 L499.3 862.4 L505.8 864.0 L510.1 867.3 L514.5 871.6 L517.7 877.0 L518.8 883.5 L514.5 885.7 L509.1 884.6 L503.6 886.2 L499.3 883.5 L493.9 884.6 L492.3 890.0 L488.5 889.5 L486.3 893.2 L487.4 899.7 L488.5 906.2 L484.2 912.7 L482.0 914.9 M503.6 886.2 L509.1 887.8 L515.6 887.3 L519.9 892.2 L522.0 896.5 L524.2 893.2 L530.7 893.2 L536.1 896.5 L538.3 901.9 L534.0 903.5 L536.1 907.3 L540.4 907.3 L541.5 910.6 L536.1 913.8 L532.9 919.2 L530.7 925.7 L527.5 930.0 L527.5 936.0 M490.7 831.6 L493.9 830.5 L496.1 837.0 L493.9 840.2 L491.2 835.9 Z M492.8 844.5 L498.2 845.6 L497.2 848.3 L493.9 846.7 Z M492.8 856.4 L498.2 853.2 L499.3 854.3 L495.0 858.1 Z M482.0 820.7 L486.3 822.9 L484.2 827.2 L482.0 826.1 M482.0 833.7 L487.4 835.9 L489.6 840.2 L485.2 844.5 L482.0 841.3 M482.0 854.3 L485.2 858.6 L484.2 864.0 L482.0 862.9 M489.6 861.9 L495.0 859.7 L493.9 861.9 L489.6 862.9 Z M561.0 918.1 L566.4 912.7 L571.8 911.1 L574.0 914.9 L570.8 917.1 L568.6 916.0 L569.7 922.5 L570.8 927.9 L568.6 931.1 L565.3 925.7 L562.1 922.5 Z M571.8 922.5 L575.1 921.4 L576.2 924.6 L574.0 925.7 Z M584.3 899.7 L586.4 897.0 L587.5 899.2 L585.4 901.4 Z M595.1 863.5 L600.0 860.2 L604.3 857.0 L608.1 852.7 L610.3 857.0 L604.3 858.6 L605.4 864.0 L600.0 866.2 Z M589.2 802.3 L592.4 806.7 L595.6 813.2 L598.9 815.3 L601.6 812.1 L598.9 808.8 L594.6 805.6 L591.3 802.3 Z M601.1 801.2 L603.2 800.2 L604.8 802.3 L602.7 804.0 Z M620.0 837.0 L616.2 839.1 L613.5 843.5 L614.0 848.9 L611.3 851.6 L616.2 854.3 L620.0 857.5 M620.0 912.7 L617.3 906.2 L615.7 899.7 L614.6 892.7 L611.9 893.2 L612.4 899.7 L615.1 910.6 L620.0 920.3 M619.0 804.5 L623.3 804.5 L623.3 808.8 L619.0 812.1 M619.0 821.3 L623.3 822.4 L624.4 829.4 L627.7 835.3 L624.4 841.3 L622.2 838.0 L619.0 834.8 M619.0 858.6 L622.2 862.9 L625.5 867.3 L629.8 872.7 L632.0 879.2 L635.2 881.9 L641.2 881.3 L638.5 884.6 L639.0 890.0 L642.8 890.5 L634.2 891.1 L632.0 895.4 L635.2 900.8 L640.6 906.2 L647.1 908.4 L653.6 906.2 L650.4 911.6 L643.9 917.1 L642.3 923.6 L639.6 931.1 L636.9 936.0 M632.0 895.4 L640.6 894.3 L650.4 897.6 L654.7 896.0 L660.1 896.5 L664.5 901.9 L665.5 906.2 L662.3 903.5 L656.9 899.7 L649.3 899.2 L642.8 898.1 L636.3 898.7 Z M619.0 910.6 L623.3 917.1 L628.7 921.4 L632.5 920.3 L629.8 924.6 L623.3 925.2 L619.0 919.2 M412.2 935.0 L408.9 940.4 L404.6 946.9 L399.2 949.6 L398.1 954.5 L397.0 966.4 L394.9 972.9 L391.6 976.7 L387.3 978.3 L380.8 977.8 L376.5 972.3 L374.3 971.3 M378.6 978.3 L387.3 979.4 L385.1 981.5 L379.7 981.5 Z M458.7 935.0 L452.2 940.4 L447.9 946.9 L444.7 954.5 L441.4 961.0 L440.3 966.4 L443.6 970.7 L444.1 977.8 L447.9 977.2 L455.5 970.7 L463.1 968.6 L467.4 964.2 L471.7 962.6 L477.1 963.7 L482.0 964.8 M526.4 935.0 L525.3 939.3 L523.1 942.6 L520.4 943.7 L518.8 946.4 L516.6 948.0 L514.5 952.3 L513.9 957.2 L511.2 957.7 L510.7 953.9 L508.0 957.7 L501.5 963.1 L496.1 964.2 L488.5 962.1 L482.0 965.3 M500.9 979.9 L503.6 978.3 L506.9 980.5 L510.1 982.6 L514.5 981.5 L519.9 983.2 L521.0 988.0 L517.7 992.4 L512.3 994.0 L508.0 995.1 L504.2 992.4 L500.4 988.0 L502.6 984.8 Z M620.0 952.3 L611.9 953.9 L604.3 955.0 L601.1 951.8 L596.7 951.2 L591.3 954.5 L590.2 959.4 L584.8 963.1 L581.6 971.8 L578.3 983.7 L575.6 993.4 L570.8 1001.0 L565.3 1006.4 L562.6 1012.9 L564.3 1020.5 L566.4 1027.0 L570.8 1029.7 L575.1 1028.1 L579.4 1021.6 L583.7 1028.1 L589.2 1038.9 L590.2 1041.6 L585.9 1038.9 L583.7 1042.2 L589.2 1046.5 L595.6 1046.5 L598.9 1038.9 L598.9 1027.0 L600.0 1015.1 L595.6 1009.7 L593.5 999.9 L596.7 989.1 L598.4 981.5 L601.1 979.4 L604.3 980.5 L602.1 991.3 L602.1 997.8 L605.4 1004.3 L611.9 1007.5 L620.0 1004.3 M576.2 1034.6 L580.5 1030.8 L582.1 1034.6 L581.6 1038.9 L579.4 1044.3 L576.2 1043.2 L575.6 1037.8 Z M577.2 1047.6 L579.4 1051.9 L574.0 1054.1 L567.5 1057.3 L564.3 1062.7 L559.9 1066.0 L556.7 1070.3 L553.4 1071.9 M582.7 1046.5 L588.1 1049.7 L594.6 1047.6 L596.7 1048.6 L604.3 1043.2 L611.9 1040.0 L613.0 1037.8 L620.0 1034.6 M550.2 1053.0 L549.1 1049.7 L545.9 1046.5 L541.5 1042.2 L544.8 1038.9 L544.8 1033.5 L539.4 1033.5 L542.6 1028.6 L537.2 1028.1 L534.0 1032.4 L532.9 1037.8 L536.1 1042.2 L534.0 1045.4 L539.4 1049.7 L541.5 1054.1 L538.3 1057.3 L535.0 1055.1 L536.1 1060.6 L534.0 1063.8 L538.3 1067.0 L534.0 1069.8 M528.5 1045.4 L532.3 1049.7 L530.7 1056.2 L526.4 1061.6 L521.0 1064.3 L517.2 1062.7 L519.9 1058.4 L519.3 1051.9 L523.1 1047.6 Z M620.0 1010.8 L615.1 1012.9 L614.0 1018.3 L617.3 1021.6 L613.0 1024.8 L614.0 1032.4 L616.2 1034.6 L620.0 1032.4 M635.2 935.0 L636.3 939.3 L636.9 945.8 L634.2 949.1 L629.8 945.3 L626.6 946.4 L628.7 950.2 L633.1 953.9 L630.4 961.0 L630.9 966.4 L626.6 967.5 L629.8 973.4 L625.5 974.0 M619.0 951.2 L624.4 956.6 L626.6 963.1 L623.3 966.4 L619.0 968.6 M619.0 1002.1 L623.3 1001.0 L625.0 1004.3 L621.2 1007.5 L619.0 1006.4 Z" fill="none" stroke="#000" stroke-width="0.7" stroke-linejoin="round" opacity="0.85"/></g>
</g>
<circle cx="550.30" cy="371.10" r="206.00" fill="none" stroke="#000" stroke-width="1.7"/>
<g clip-path="url(#c2)">
<g filter="url(#f2)">
<g filter="url(#f2b)">
<rect x="314.25" y="630.00" width="429.05" height="44.05" fill="#737373"/>
<rect x="743.00" y="630.00" width="44.05" height="44.05" fill="#a6a6a6"/>
<rect x="314.25" y="673.75" width="236.55" height="14.05" fill="#737373"/>
<rect x="550.50" y="673.75" width="69.05" height="14.05" fill="#595959"/>
<rect x="619.25" y="673.75" width="110.30" height="14.05" fill="#737373"/>
<rect x="729.25" y="673.75" width="57.80" height="14.05" fill="#a6a6a6"/>
<rect x="314.25" y="687.50" width="195.30" height="14.05" fill="#737373"/>
<rect x="509.25" y="687.50" width="96.55" height="14.05" fill="#595959"/>
<rect x="605.50" y="687.50" width="27.80" height="14.05" fill="#737373"/>
<rect x="633.00" y="687.50" width="27.80" height="14.05" fill="#595959"/>
<rect x="660.50" y="687.50" width="55.30" height="14.05" fill="#737373"/>
<rect x="715.50" y="687.50" width="27.80" height="14.05" fill="#a6a6a6"/>
<rect x="743.00" y="687.50" width="44.05" height="14.05" fill="#737373"/>
<rect x="314.25" y="701.25" width="181.55" height="14.05" fill="#737373"/>
<rect x="495.50" y="701.25" width="82.80" height="14.05" fill="#595959"/>
<rect x="578.00" y="701.25" width="14.05" height="14.05" fill="#404040"/>
<rect x="591.75" y="701.25" width="14.05" height="14.05" fill="#595959"/>
<rect x="605.50" y="701.25" width="14.05" height="14.05" fill="#737373"/>
<rect x="619.25" y="701.25" width="27.80" height="14.05" fill="#404040"/>
<rect x="646.75" y="701.25" width="14.05" height="14.05" fill="#595959"/>
<rect x="660.50" y="701.25" width="41.55" height="14.05" fill="#737373"/>
<rect x="701.75" y="701.25" width="27.80" height="14.05" fill="#a6a6a6"/>
<rect x="729.25" y="701.25" width="57.80" height="14.05" fill="#737373"/>
<rect x="314.25" y="715.00" width="140.30" height="14.05" fill="#737373"/>
<rect x="454.25" y="715.00" width="14.05" height="14.05" fill="#595959"/>
<rect x="468.00" y="715.00" width="41.55" height="14.05" fill="#737373"/>
<rect x="509.25" y="715.00" width="14.05" height="14.05" fill="#595959"/>
<rect x="523.00" y="715.00" width="27.80" height="14.05" fill="#404040"/>
<rect x="550.50" y="715.00" width="55.30" height="14.05" fill="#595959"/>
<rect x="605.50" y="715.00" width="41.55" height="14.05" fill="#404040"/>
<rect x="646.75" y="715.00" width="14.05" height="14.05" fill="#595959"/>
<rect x="660.50" y="715.00" width="14.05" height="14.05" fill="#737373"/>
<rect x="674.25" y="715.00" width="14.05" height="14.05" fill="#8c8c8c"/>
<rect x="688.00" y="715.00" width="27.80" height="14.05" fill="#a6a6a6"/>
<rect x="715.50" y="715.00" width="71.55" height="14.05" fill="#737373"/>
<rect x="314.25" y="728.75" width="181.55" height="14.05" fill="#737373"/>
<rect x="495.50" y="728.75" width="14.05" height="14.05" fill="#595959"/>
<rect x="509.25" y="728.75" width="41.55" height="14.05" fill="#404040"/>
<rect x="550.50" y="728.75" width="110.30" height="14.05" fill="#595959"/>
<rect x="660.50" y="728.75" width="14.05" height="14.05" fill="#737373"/>
<rect x="674.25" y="728.75" width="14.05" height="14.05" fill="#a6a6a6"/>
<rect x="688.00" y="728.75" width="14.05" height="14.05" fill="#8c8c8c"/>
<rect x="701.75" y="728.75" width="85.30" height="14.05" fill="#737373"/>
<rect x="314.25" y="742.50" width="181.55" height="14.05" fill="#737373"/>
<rect x="495.50" y="742.50" width="14.05" height="14.05" fill="#595959"/>
<rect x="509.25" y="742.50" width="27.80" height="14.05" fill="#404040"/>
<rect x="536.75" y="742.50" width="14.05" height="14.05" fill="#595959"/>
<rect x="550.50" y="742.50" width="14.05" height="14.05" fill="#404040"/>
<rect x="564.25" y="742.50" width="14.05" height="14.05" fill="#595959"/>
<rect x="578.00" y="742.50" width="41.55" height="14.05" fill="#404040"/>
<rect x="619.25" y="742.50" width="14.05" height="14.05" fill="#595959"/>
<rect x="633.00" y="742.50" width="41.55" height="14.05" fill="#737373"/>
<rect x="674.25" y="742.50" width="14.05" height="14.05" fill="#8c8c8c"/>
<rect x="688.00" y="742.50" width="99.05" height="14.05" fill="#737373"/>
<rect x="314.25" y="756.25" width="44.05" height="14.05" fill="#8c8c8c"/>
<rect x="358.00" y="756.25" width="82.80" height="14.05" fill="#737373"/>
<rect x="440.50" y="756.25" width="41.55" height="14.05" fill="#595959"/>
<rect x="481.75" y="756.25" width="14.05" height="14.05" fill="#404040"/>
<rect x="495.50" y="756.25" width="14.05" height="14.05" fill="#595959"/>
<rect x="509.25" y="756.25" width="14.05" height="14.05" fill="#404040"/>
<rect x="523.00" y="756.25" width="14.05" height="14.05" fill="#262626"/>
<rect x="536.75" y="756.25" width="41.55" height="14.05" fill="#404040"/>
<rect x="578.00" y="756.25" width="14.05" height="14.05" fill="#262626"/>
<rect x="591.75" y="756.25" width="27.80" height="14.05" fill="#404040"/>
<rect x="619.25" y="756.25" width="14.05" height="14.05" fill="#595959"/>
<rect x="633.00" y="756.25" width="41.55" height="14.05" fill="#737373"/>
<rect x="674.25" y="756.25" width="27.80" height="14.05" fill="#8c8c8c"/>
<rect x="701.75" y="756.25" width="41.55" height="14.05" fill="#737373"/>
<rect x="743.00" y="756.25" width="44.05" height="14.05" fill="#404040"/>
<rect x="314.25" y="770.00" width="71.55" height="14.05" fill="#8c8c8c"/>
<rect x="385.50" y="770.00" width="27.80" height="14.05" fill="#737373"/>
<rect x="413.00" y="770.00" width="14.05" height="14.05" fill="#8c8c8c"/>
<rect x="426.75" y="770.00" width="14.05" height="14.05" fill="#737373"/>
<rect x="440.50" y="770.00" width="27.80" height="14.05" fill="#595959"/>
<rect x="468.00" y="770.00" width="41.55" height="14.05" fill="#404040"/>
<rect x="509.25" y="770.00" width="82.80" height="14.05" fill="#262626"/>
<rect x="591.75" y="770.00" width="27.80" height="14.05" fill="#404040"/>
<rect x="619.25" y="770.00" width="14.05" height="14.05" fill="#595959"/>
<rect x="633.00" y="770.00" width="14.05" height="14.05" fill="#737373"/>
<rect x="646.75" y="770.00" width="14.05" height="14.05" fill="#595959"/>
<rect x="660.50" y="770.00" width="14.05" height="14.05" fill="#737373"/>
<rect x="674.25" y="770.00" width="27.80" height="14.05" fill="#8c8c8c"/>
<rect x="701.75" y="770.00" width="14.05" height="14.05" fill="#737373"/>
<rect x="715.50" y="770.00" width="14.05" height="14.05" fill="#595959"/>
<rect x="729.25" y="770.00" width="57.80" height="14.05" fill="#404040"/>
<rect x="314.25" y="783.75" width="112.80" height="14.05" fill="#737373"/>
<rect x="426.75" y="783.75" width="14.05" height="14.05" fill="#8c8c8c"/>
<rect x="440.50" y="783.75" width="14.05" height="14.05" fill="#737373"/>
<rect x="454.25" y="783.75" width="27.80" height="14.05" fill="#404040"/>
<rect x="481.75" y="783.75" width="110.30" height="14.05" fill="#262626"/>
<rect x="591.75" y="783.75" width="27.80" height="14.05" fill="#404040"/>
<rect x="619.25" y="783.75" width="14.05" height="14.05" fill="#595959"/>
<rect x="633.00" y="783.75" width="14.05" height="14.05" fill="#737373"/>
<rect x="646.75" y="783.75" width="14.05" height="14.05" fill="#595959"/>
<rect x="660.50" y="783.75" width="27.80" height="14.05" fill="#737373"/>
<rect x="688.00" y="783.75" width="14.05" height="14.05" fill="#a6a6a6"/>
<rect x="701.75" y="783.75" width="14.05" height="14.05" fill="#8c8c8c"/>
<rect x="715.50" y="783.75" width="71.55" height="14.05" fill="#737373"/>
<rect x="314.25" y="797.50" width="71.55" height="14.05" fill="#595959"/>
<rect x="385.50" y="797.50" width="14.05" height="14.05" fill="#737373"/>
<rect x="399.25" y="797.50" width="27.80" height="14.05" fill="#595959"/>
<rect x="426.75" y="797.50" width="55.30" height="14.05" fill="#404040"/>
<rect x="481.75" y="797.50" width="124.05" height="14.05" fill="#262626"/>
<rect x="605.50" y="797.50" width="14.05" height="14.05" fill="#404040"/>
<rect x="619.25" y="797.50" width="69.05" height="14.05" fill="#595959"/>
<rect x="688.00" y="797.50" width="27.80" height="14.05" fill="#8c8c8c"/>
<rect x="715.50" y="797.50" width="14.05" height="14.05" fill="#737373"/>
<rect x="729.25" y="797.50" width="57.80" height="14.05" fill="#595959"/>
<rect x="314.25" y="811.25" width="85.30" height="14.05" fill="#737373"/>
<rect x="399.25" y="811.25" width="41.55" height="14.05" fill="#595959"/>
<rect x="440.50" y="811.25" width="27.80" height="14.05" fill="#404040"/>
<rect x="468.00" y="811.25" width="151.55" height="14.05" fill="#262626"/>
<rect x="619.25" y="811.25" width="14.05" height="14.05" fill="#404040"/>
<rect x="633.00" y="811.25" width="27.80" height="14.05" fill="#595959"/>
<rect x="660.50" y="811.25" width="69.05" height="14.05" fill="#737373"/>
<rect x="729.25" y="811.25" width="14.05" height="14.05" fill="#595959"/>
<rect x="743.00" y="811.25" width="44.05" height="14.05" fill="#8c8c8c"/>
<rect x="314.25" y="825.00" width="85.30" height="14.05" fill="#737373"/>
<rect x="399.25" y="825.00" width="41.55" height="14.05" fill="#595959"/>
<rect x="440.50" y="825.00" width="14.05" height="14.05" fill="#404040"/>
<rect x="454.25" y="825.00" width="165.30" height="14.05" fill="#262626"/>
<rect x="619.25" y="825.00" width="14.05" height="14.05" fill="#404040"/>
<rect x="633.00" y="825.00" width="27.80" height="14.05" fill="#595959"/>
<rect x="660.50" y="825.00" width="69.05" height="14.05" fill="#737373"/>
<rect x="729.25" y="825.00" width="14.05" height="14.05" fill="#8c8c8c"/>
<rect x="743.00" y="825.00" width="44.05" height="14.05" fill="#737373"/>
<rect x="314.25" y="838.75" width="44.05" height="14.05" fill="#8c8c8c"/>
<rect x="358.00" y="838.75" width="41.55" height="14.05" fill="#737373"/>
<rect x="399.25" y="838.75" width="41.55" height="14.05" fill="#595959"/>
<rect x="440.50" y="838.75" width="165.30" height="14.05" fill="#262626"/>
<rect x="605.50" y="838.75" width="41.55" height="14.05" fill="#404040"/>
<rect x="646.75" y="838.75" width="14.05" height="14.05" fill="#595959"/>
<rect x="660.50" y="838.75" width="69.05" height="14.05" fill="#737373"/>
<rect x="729.25" y="838.75" width="14.05" height="14.05" fill="#a6a6a6"/>
<rect x="743.00" y="838.75" width="44.05" height="14.05" fill="#595959"/>
<rect x="314.25" y="852.50" width="44.05" height="14.05" fill="#8c8c8c"/>
<rect x="358.00" y="852.50" width="27.80" height="14.05" fill="#737373"/>
<rect x="385.50" y="852.50" width="14.05" height="14.05" fill="#595959"/>
<rect x="399.25" y="852.50" width="14.05" height="14.05" fill="#404040"/>
<rect x="413.00" y="852.50" width="14.05" height="14.05" fill="#595959"/>
<rect x="426.75" y="852.50" width="27.80" height="14.05" fill="#404040"/>
<rect x="454.25" y="852.50" width="165.30" height="14.05" fill="#262626"/>
<rect x="619.25" y="852.50" width="14.05" height="14.05" fill="#404040"/>
<rect x="633.00" y="852.50" width="14.05" height="14.05" fill="#595959"/>
<rect x="646.75" y="852.50" width="41.55" height="14.05" fill="#737373"/>
<rect x="688.00" y="852.50" width="14.05" height="14.05" fill="#8c8c8c"/>
<rect x="701.75" y="852.50" width="27.80" height="14.05" fill="#737373"/>
<rect x="729.25" y="852.50" width="14.05" height="14.05" fill="#8c8c8c"/>
<rect x="743.00" y="852.50" width="44.05" height="14.05" fill="#737373"/>
<rect x="314.25" y="866.25" width="44.05" height="14.05" fill="#8c8c8c"/>
<rect x="358.00" y="866.25" width="27.80" height="14.05" fill="#737373"/>
<rect x="385.50" y="866.25" width="14.05" height="14.05" fill="#595959"/>
<rect x="399.25" y="866.25" width="55.30" height="14.05" fill="#404040"/>
<rect x="454.25" y="866.25" width="165.30" height="14.05" fill="#262626"/>
<rect x="619.25" y="866.25" width="14.05" height="14.05" fill="#404040"/>
<rect x="633.00" y="866.25" width="27.80" height="14.05" fill="#595959"/>
<rect x="660.50" y="866.25" width="27.80" height="14.05" fill="#737373"/>
<rect x="688.00" y="866.25" width="14.05" height="14.05" fill="#8c8c8c"/>
<rect x="701.75" y="866.25" width="27.80" height="14.05" fill="#737373"/>
<rect x="729.25" y="866.25" width="14.05" height="14.05" fill="#8c8c8c"/>
<rect x="743.00" y="866.25" width="44.05" height="14.05" fill="#d9d9d9"/>
<rect x="314.25" y="880.00" width="44.05" height="14.05" fill="#8c8c8c"/>
<rect x="358.00" y="880.00" width="14.05" height="14.05" fill="#737373"/>
<rect x="371.75" y="880.00" width="41.55" height="14.05" fill="#595959"/>
<rect x="413.00" y="880.00" width="55.30" height="14.05" fill="#404040"/>
<rect x="468.00" y="880.00" width="27.80" height="14.05" fill="#262626"/>
<rect x="495.50" y="880.00" width="27.80" height="14.05" fill="#0d0d0d"/>
<rect x="523.00" y="880.00" width="82.80" height="14.05" fill="#262626"/>
<rect x="605.50" y="880.00" width="27.80" height="14.05" fill="#404040"/>
<rect x="633.00" y="880.00" width="27.80" height="14.05" fill="#595959"/>
<rect x="660.50" y="880.00" width="27.80" height="14.05" fill="#737373"/>
<rect x="688.00" y="880.00" width="14.05" height="14.05" fill="#8c8c8c"/>
<rect x="701.75" y="880.00" width="14.05" height="14.05" fill="#737373"/>
<rect x="715.50" y="880.00" width="27.80" height="14.05" fill="#595959"/>
<rect x="743.00" y="880.00" width="44.05" height="14.05" fill="#737373"/>
<rect x="314.25" y="893.75" width="44.05" height="14.05" fill="#8c8c8c"/>
<rect x="358.00" y="893.75" width="14.05" height="14.05" fill="#737373"/>
<rect x="371.75" y="893.75" width="27.80" height="14.05" fill="#595959"/>
<rect x="399.25" y="893.75" width="14.05" height="14.05" fill="#737373"/>
<rect x="413.00" y="893.75" width="41.55" height="14.05" fill="#595959"/>
<rect x="454.25" y="893.75" width="27.80" height="14.05" fill="#262626"/>
<rect x="481.75" y="893.75" width="14.05" height="14.05" fill="#595959"/>
<rect x="495.50" y="893.75" width="41.55" height="14.05" fill="#0d0d0d"/>
<rect x="536.75" y="893.75" width="69.05" height="14.05" fill="#262626"/>
<rect x="605.50" y="893.75" width="14.05" height="14.05" fill="#595959"/>
<rect x="619.25" y="893.75" width="14.05" height="14.05" fill="#404040"/>
<rect x="633.00" y="893.75" width="27.80" height="14.05" fill="#595959"/>
<rect x="660.50" y="893.75" width="27.80" height="14.05" fill="#737373"/>
<rect x="688.00" y="893.75" width="14.05" height="14.05" fill="#8c8c8c"/>
<rect x="701.75" y="893.75" width="14.05" height="14.05" fill="#737373"/>
<rect x="715.50" y="893.75" width="14.05" height="14.05" fill="#595959"/>
<rect x="729.25" y="893.75" width="14.05" height="14.05" fill="#404040"/>
<rect x="743.00" y="893.75" width="44.05" height="14.05" fill="#262626"/>
<rect x="314.25" y="907.50" width="57.80" height="14.05" fill="#8c8c8c"/>
<rect x="371.75" y="907.50" width="41.55" height="14.05" fill="#737373"/>
<rect x="413.00" y="907.50" width="27.80" height="14.05" fill="#595959"/>
<rect x="440.50" y="907.50" width="14.05" height="14.05" fill="#404040"/>
<rect x="454.25" y="907.50" width="27.80" height="14.05" fill="#262626"/>
<rect x="481.75" y="907.50" width="14.05" height="14.05" fill="#595959"/>
<rect x="495.50" y="907.50" width="14.05" height="14.05" fill="#262626"/>
<rect x="509.25" y="907.50" width="27.80" height="14.05" fill="#0d0d0d"/>
<rect x="536.75" y="907.50" width="27.80" height="14.05" fill="#262626"/>
<rect x="564.25" y="907.50" width="14.05" height="14.05" fill="#404040"/>
<rect x="578.00" y="907.50" width="14.05" height="14.05" fill="#262626"/>
<rect x="591.75" y="907.50" width="27.80" height="14.05" fill="#404040"/>
<rect x="619.25" y="907.50" width="27.80" height="14.05" fill="#595959"/>
<rect x="646.75" y="907.50" width="69.05" height="14.05" fill="#737373"/>
<rect x="715.50" y="907.50" width="14.05" height="14.05" fill="#595959"/>
<rect x="729.25" y="907.50" width="57.80" height="14.05" fill="#404040"/>
<rect x="314.25" y="921.25" width="57.80" height="14.05" fill="#8c8c8c"/>
<rect x="371.75" y="921.25" width="27.80" height="14.05" fill="#737373"/>
<rect x="399.25" y="921.25" width="41.55" height="14.05" fill="#595959"/>
<rect x="440.50" y="921.25" width="27.80" height="14.05" fill="#404040"/>
<rect x="468.00" y="921.25" width="14.05" height="14.05" fill="#595959"/>
<rect x="481.75" y="921.25" width="14.05" height="14.05" fill="#404040"/>
<rect x="495.50" y="921.25" width="27.80" height="14.05" fill="#0d0d0d"/>
<rect x="523.00" y="921.25" width="27.80" height="14.05" fill="#262626"/>
<rect x="550.50" y="921.25" width="82.80" height="14.05" fill="#404040"/>
<rect x="633.00" y="921.25" width="14.05" height="14.05" fill="#595959"/>
<rect x="646.75" y="921.25" width="69.05" height="14.05" fill="#737373"/>
<rect x="715.50" y="921.25" width="71.55" height="14.05" fill="#404040"/>
<rect x="314.25" y="935.00" width="44.05" height="14.05" fill="#a6a6a6"/>
<rect x="358.00" y="935.00" width="27.80" height="14.05" fill="#8c8c8c"/>
<rect x="385.50" y="935.00" width="27.80" height="14.05" fill="#737373"/>
<rect x="413.00" y="935.00" width="55.30" height="14.05" fill="#595959"/>
<rect x="468.00" y="935.00" width="14.05" height="14.05" fill="#404040"/>
<rect x="481.75" y="935.00" width="14.05" height="14.05" fill="#262626"/>
<rect x="495.50" y="935.00" width="14.05" height="14.05" fill="#0d0d0d"/>
<rect x="509.25" y="935.00" width="14.05" height="14.05" fill="#262626"/>
<rect x="523.00" y="935.00" width="55.30" height="14.05" fill="#404040"/>
<rect x="578.00" y="935.00" width="55.30" height="14.05" fill="#595959"/>
<rect x="633.00" y="935.00" width="82.80" height="14.05" fill="#737373"/>
<rect x="715.50" y="935.00" width="14.05" height="14.05" fill="#595959"/>
<rect x="729.25" y="935.00" width="57.80" height="14.05" fill="#404040"/>
<rect x="314.25" y="948.75" width="44.05" height="14.05" fill="#a6a6a6"/>
<rect x="358.00" y="948.75" width="41.55" height="14.05" fill="#8c8c8c"/>
<rect x="399.25" y="948.75" width="55.30" height="14.05" fill="#737373"/>
<rect x="454.25" y="948.75" width="14.05" height="14.05" fill="#404040"/>
<rect x="468.00" y="948.75" width="55.30" height="14.05" fill="#595959"/>
<rect x="523.00" y="948.75" width="41.55" height="14.05" fill="#404040"/>
<rect x="564.25" y="948.75" width="27.80" height="14.05" fill="#595959"/>
<rect x="591.75" y="948.75" width="124.05" height="14.05" fill="#737373"/>
<rect x="715.50" y="948.75" width="14.05" height="14.05" fill="#595959"/>
<rect x="729.25" y="948.75" width="57.80" height="14.05" fill="#404040"/>
<rect x="314.25" y="962.50" width="85.30" height="14.05" fill="#8c8c8c"/>
<rect x="399.25" y="962.50" width="27.80" height="14.05" fill="#737373"/>
<rect x="426.75" y="962.50" width="27.80" height="14.05" fill="#8c8c8c"/>
<rect x="454.25" y="962.50" width="55.30" height="14.05" fill="#737373"/>
<rect x="509.25" y="962.50" width="14.05" height="14.05" fill="#595959"/>
<rect x="523.00" y="962.50" width="14.05" height="14.05" fill="#404040"/>
<rect x="536.75" y="962.50" width="27.80" height="14.05" fill="#595959"/>
<rect x="564.25" y="962.50" width="14.05" height="14.05" fill="#404040"/>
<rect x="578.00" y="962.50" width="110.30" height="14.05" fill="#737373"/>
<rect x="688.00" y="962.50" width="14.05" height="14.05" fill="#595959"/>
<rect x="701.75" y="962.50" width="14.05" height="14.05" fill="#737373"/>
<rect x="715.50" y="962.50" width="14.05" height="14.05" fill="#595959"/>
<rect x="729.25" y="962.50" width="57.80" height="14.05" fill="#404040"/>
<rect x="314.25" y="976.25" width="71.55" height="14.05" fill="#8c8c8c"/>
<rect x="385.50" y="976.25" width="41.55" height="14.05" fill="#737373"/>
<rect x="426.75" y="976.25" width="27.80" height="14.05" fill="#8c8c8c"/>
<rect x="454.25" y="976.25" width="69.05" height="14.05" fill="#737373"/>
<rect x="523.00" y="976.25" width="55.30" height="14.05" fill="#595959"/>
<rect x="578.00" y="976.25" width="14.05" height="14.05" fill="#8c8c8c"/>
<rect x="591.75" y="976.25" width="96.55" height="14.05" fill="#737373"/>
<rect x="688.00" y="976.25" width="14.05" height="14.05" fill="#595959"/>
<rect x="701.75" y="976.25" width="85.30" height="14.05" fill="#404040"/>
<rect x="314.25" y="990.00" width="71.55" height="14.05" fill="#8c8c8c"/>
<rect x="385.50" y="990.00" width="137.80" height="14.05" fill="#737373"/>
<rect x="523.00" y="990.00" width="41.55" height="14.05" fill="#595959"/>
<rect x="564.25" y="990.00" width="27.80" height="14.05" fill="#737373"/>
<rect x="591.75" y="990.00" width="14.05" height="14.05" fill="#595959"/>
<rect x="605.50" y="990.00" width="69.05" height="14.05" fill="#737373"/>
<rect x="674.25" y="990.00" width="27.80" height="14.05" fill="#595959"/>
<rect x="701.75" y="990.00" width="85.30" height="14.05" fill="#404040"/>
<rect x="314.25" y="1003.75" width="57.80" height="14.05" fill="#8c8c8c"/>
<rect x="371.75" y="1003.75" width="151.55" height="14.05" fill="#737373"/>
<rect x="523.00" y="1003.75" width="41.55" height="14.05" fill="#595959"/>
<rect x="564.25" y="1003.75" width="27.80" height="14.05" fill="#8c8c8c"/>
<rect x="591.75" y="1003.75" width="14.05" height="14.05" fill="#595959"/>
<rect x="605.50" y="1003.75" width="69.05" height="14.05" fill="#737373"/>
<rect x="674.25" y="1003.75" width="27.80" height="14.05" fill="#595959"/>
<rect x="701.75" y="1003.75" width="85.30" height="14.05" fill="#404040"/>
<rect x="314.25" y="1017.50" width="44.05" height="14.05" fill="#8c8c8c"/>
<rect x="358.00" y="1017.50" width="55.30" height="14.05" fill="#737373"/>
<rect x="413.00" y="1017.50" width="14.05" height="14.05" fill="#8c8c8c"/>
<rect x="426.75" y="1017.50" width="110.30" height="14.05" fill="#737373"/>
<rect x="536.75" y="1017.50" width="27.80" height="14.05" fill="#595959"/>
<rect x="564.25" y="1017.50" width="14.05" height="14.05" fill="#8c8c8c"/>
<rect x="578.00" y="1017.50" width="14.05" height="14.05" fill="#737373"/>
<rect x="591.75" y="1017.50" width="27.80" height="14.05" fill="#595959"/>
<rect x="619.25" y="1017.50" width="55.30" height="14.05" fill="#737373"/>
<rect x="674.25" y="1017.50" width="41.55" height="14.05" fill="#595959"/>
<rect x="715.50" y="1017.50" width="71.55" height="14.05" fill="#404040"/>
<rect x="314.25" y="1031.25" width="85.30" height="14.05" fill="#737373"/>
<rect x="399.25" y="1031.25" width="27.80" height="14.05" fill="#8c8c8c"/>
<rect x="426.75" y="1031.25" width="110.30" height="14.05" fill="#737373"/>
<rect x="536.75" y="1031.25" width="14.05" height="14.05" fill="#595959"/>
<rect x="550.50" y="1031.25" width="14.05" height="14.05" fill="#404040"/>
<rect x="564.25" y="1031.25" width="55.30" height="14.05" fill="#595959"/>
<rect x="619.25" y="1031.25" width="55.30" height="14.05" fill="#737373"/>
<rect x="674.25" y="1031.25" width="55.30" height="14.05" fill="#595959"/>
<rect x="729.25" y="1031.25" width="57.80" height="14.05" fill="#404040"/>
<rect x="314.25" y="1045.00" width="71.55" height="14.05" fill="#737373"/>
<rect x="385.50" y="1045.00" width="27.80" height="14.05" fill="#8c8c8c"/>
<rect x="413.00" y="1045.00" width="124.05" height="14.05" fill="#737373"/>
<rect x="536.75" y="1045.00" width="14.05" height="14.05" fill="#595959"/>
<rect x="550.50" y="1045.00" width="14.05" height="14.05" fill="#404040"/>
<rect x="564.25" y="1045.00" width="41.55" height="14.05" fill="#595959"/>
<rect x="605.50" y="1045.00" width="82.80" height="14.05" fill="#737373"/>
<rect x="688.00" y="1045.00" width="55.30" height="14.05" fill="#595959"/>
<rect x="743.00" y="1045.00" width="44.05" height="14.05" fill="#404040"/>
<rect x="314.25" y="1058.75" width="57.80" height="44.05" fill="#737373"/>
<rect x="371.75" y="1058.75" width="27.80" height="44.05" fill="#8c8c8c"/>
<rect x="399.25" y="1058.75" width="124.05" height="44.05" fill="#737373"/>
<rect x="523.00" y="1058.75" width="14.05" height="44.05" fill="#595959"/>
<rect x="536.75" y="1058.75" width="14.05" height="44.05" fill="#737373"/>
<rect x="550.50" y="1058.75" width="14.05" height="44.05" fill="#595959"/>
<rect x="564.25" y="1058.75" width="137.80" height="44.05" fill="#737373"/>
<rect x="701.75" y="1058.75" width="85.30" height="44.05" fill="#595959"/>
</g>
<polyline points="422.7,740.2 440.3,738.3 450.3,742.7" fill="none" stroke="#949494" stroke-width="7" stroke-linecap="round" stroke-linejoin="round"/>
<polyline points="377.5,753.4 395.1,748.3 411.4,750.5 426.5,753.4 438.4,754.6 446.5,750.9 457.8,747.1 469.1,742.7 474.1,738.3" fill="none" stroke="#c8c8c8" stroke-width="8.5" stroke-linecap="round" stroke-linejoin="round"/>
<polyline points="420.2,746.5 435.2,745.8" fill="none" stroke="#a6a6a6" stroke-width="5" stroke-linecap="round" stroke-linejoin="round"/>
<polyline points="474.1,738.3 481.7,731.4 482.9,720.1 489.8,704.4" fill="none" stroke="#969696" stroke-width="4" stroke-linecap="round" stroke-linejoin="round"/>
<circle cx="475.4" cy="718.2" r="3.2" fill="#a1a1a1"/>
<circle cx="484.8" cy="746.5" r="3" fill="#a1a1a1"/>
<circle cx="464.1" cy="752.7" r="3" fill="#969696"/>
<circle cx="508.5" cy="684.4" r="2.2" fill="#969696"/>
<circle cx="496.1" cy="722.8" r="2.5" fill="#969696"/>
<polyline points="483.6,718.4 483.1,729.3 483.6,737.9" fill="none" stroke="#9c9c9c" stroke-width="4.5" stroke-linecap="round" stroke-linejoin="round"/>
<circle cx="482.5" cy="733.6" r="3" fill="#b2b2b2"/>
<circle cx="485.2" cy="746.6" r="3.5" fill="#b0b0b0"/>
<circle cx="608.6" cy="702.8" r="3" fill="#b0b0b0"/>
<circle cx="444.1" cy="968.0" r="3" fill="#cfcfcf"/>
<polyline points="446.3,977.4 452.2,972.3 458.7,969.1 465.2,965.8 471.7,962.6 477.7,961.5" fill="none" stroke="#cfcfcf" stroke-width="7" stroke-linecap="round" stroke-linejoin="round"/>
<polyline points="477.7,963.1 482.0,967.5" fill="none" stroke="#999999" stroke-width="5" stroke-linecap="round" stroke-linejoin="round"/>
<polyline points="480.9,965.3 488.0,961.5 492.8,959.4" fill="none" stroke="#cfcfcf" stroke-width="7" stroke-linecap="round" stroke-linejoin="round"/>
<polyline points="482.0,967.5 488.5,968.6 493.9,966.4" fill="none" stroke="#969696" stroke-width="6" stroke-linecap="round" stroke-linejoin="round"/>
<polyline points="505.3,991.8 516.1,992.1" fill="none" stroke="#b0b0b0" stroke-width="5.5" stroke-linecap="round" stroke-linejoin="round"/>
<polygon points="583.2,969.6 587.0,970.7 584.8,985.9 583.2,999.9 586.4,1005.4 586.4,1014.0 578.3,1021.6 575.1,1028.1 568.6,1029.2 564.3,1020.5 563.7,1010.8 568.6,1004.3 576.2,995.6 579.4,980.5" fill="#989898"/>
<polyline points="565.9,1011.3 566.4,1018.3 569.9,1025.4" fill="none" stroke="#b8b8b8" stroke-width="4" stroke-linecap="round" stroke-linejoin="round"/>
<polyline points="537.7,1032.4 536.1,1042.2" fill="none" stroke="#969696" stroke-width="6" stroke-linecap="round" stroke-linejoin="round"/>
<polyline points="525.3,1048.6 519.3,1056.2 518.3,1061.6" fill="none" stroke="#969696" stroke-width="5" stroke-linecap="round" stroke-linejoin="round"/>
<polygon points="658.8,930.9 673.4,937.4 688.0,950.4 678.2,956.9 670.1,969.9 664.4,973.1 663.6,960.2 668.5,950.4 663.6,939.1" fill="#8e8e8e"/>
</g>
<g fill="none" stroke="#b0b0b0" stroke-width="1.7"><circle cx="551.00" cy="867.15" r="24.71"/><circle cx="551.00" cy="867.15" r="49.52"/><circle cx="551.00" cy="867.15" r="74.51"/><circle cx="551.00" cy="867.15" r="99.80"/><circle cx="551.00" cy="867.15" r="125.47"/><circle cx="551.00" cy="867.15" r="151.65"/><circle cx="551.00" cy="867.15" r="178.45"/><path d="M551.00 661.15 L551.00 1073.15"/><path d="M372.60 764.15 L729.40 970.15"/><path d="M372.60 970.15 L729.40 764.15"/></g>
<g transform="translate(0 0.00)"><path d="M383.5 746.6 L390.5 740.6 L389.5 743.3 L394.9 746.0 L398.1 748.2 L401.4 746.6 L405.7 748.2 L411.1 748.8 L419.8 750.9 L426.3 752.0 L433.8 754.2 L439.2 749.3 L447.9 748.2 L456.6 746.6 L464.1 743.3 L471.7 742.8 L472.8 739.6 L470.6 735.8 L473.9 731.4 L476.6 729.3 L478.8 731.4 M404.6 737.9 L413.3 738.5 L416.5 741.2 L413.3 744.4 L408.9 739.6 Z M473.9 717.4 L476.0 714.7 L478.8 715.7 L478.2 720.1 L475.5 721.7 L473.9 719.0 Z M482.0 720.6 L484.2 713.0 L488.5 705.5 L493.9 697.9 L500.4 692.5 L503.6 691.4 L498.2 696.8 L492.8 705.5 L488.5 714.1 L489.6 720.6 L493.9 718.4 L498.2 716.3 L501.5 715.7 L502.6 720.6 L509.1 720.6 L514.5 719.0 L516.6 727.1 L513.4 735.8 L508.0 740.1 L509.1 746.6 L514.5 743.3 L521.0 742.8 L525.3 746.6 L517.7 754.2 L514.5 752.0 L513.4 754.2 L518.8 756.3 L523.1 760.7 L526.4 761.7 L523.1 768.2 L519.9 774.7 L514.5 780.1 L509.1 780.7 L503.6 782.3 L498.2 783.4 L490.7 786.6 L482.0 789.9 M524.2 734.1 L528.5 733.1 L531.8 734.7 L529.6 736.3 L525.3 735.8 Z M620.0 689.2 L615.1 690.3 L610.8 694.6 L605.4 697.9 L600.0 703.3 L601.1 707.6 L596.7 714.1 L590.2 719.0 L583.7 718.4 L579.4 720.1 L576.2 717.9 L571.8 720.6 L564.3 724.9 L557.8 728.2 L552.4 727.6 L553.4 733.6 L556.7 738.5 L551.3 740.6 L549.6 746.6 L546.9 743.3 L542.1 742.3 L537.2 737.9 L534.5 740.6 L530.7 746.6 L532.9 750.9 L537.2 752.5 L541.0 752.0 L539.4 748.8 L542.6 754.2 L546.9 758.5 L551.3 760.7 L555.6 764.4 L562.1 766.6 L567.5 765.5 L569.7 762.3 L574.0 767.2 L579.4 769.3 L585.9 771.5 L585.9 776.9 L591.3 780.1 L595.6 783.4 L596.7 789.9 L601.1 794.2 L603.2 798.0 M547.5 772.6 L550.2 770.9 L553.4 772.0 L551.3 774.7 L548.0 774.2 Z M620.0 712.0 L611.9 715.2 L604.3 720.6 L595.6 724.9 L588.6 733.1 L594.6 730.4 L601.1 727.1 L602.1 733.6 L608.1 734.1 L616.2 729.8 L620.0 727.6 M619.0 689.2 L623.3 686.0 L630.4 682.2 L629.3 692.5 L626.6 702.2 L622.2 709.8 L619.0 713.0 M619.0 724.9 L625.5 726.6 L627.1 731.4 L633.1 733.6 L640.6 737.9 L647.1 742.3 L654.7 741.2 L664.5 740.1 L675.3 739.0 L678.0 737.9 L676.9 730.4 L673.1 727.1 L669.9 721.7 L671.0 712.0 L673.1 702.2 M676.4 705.5 L674.2 714.1 L668.8 719.5 L663.4 722.2 L662.3 720.6 L666.6 712.0 L671.0 703.3 M353.7 904.1 L358.1 897.6 L365.6 893.2 L372.1 892.2 L373.2 884.6 L377.6 874.8 L381.9 867.3 L383.0 861.9 L390.5 858.6 L394.9 855.4 L402.4 856.4 L408.9 860.8 L414.4 866.2 L419.8 868.4 L423.0 873.8 L428.4 875.9 L432.8 877.0 L433.8 882.4 L438.2 884.6 L444.7 882.4 L451.2 880.3 L450.1 873.8 M353.7 904.1 L360.2 906.2 L368.9 901.9 L373.2 899.7 L377.6 904.1 L385.1 907.3 L391.6 903.0 L394.9 899.7 L400.3 900.8 L404.6 898.7 L411.1 897.6 L414.4 898.7 L415.4 906.2 L413.3 912.7 L411.1 918.1 L404.6 922.5 L401.4 926.8 L404.6 932.2 L411.1 932.2 M420.8 910.6 L424.1 905.2 L426.3 900.8 L424.1 895.4 L427.3 894.3 L430.6 900.8 L437.1 901.9 L443.6 900.8 L447.9 895.4 L452.2 891.1 L457.6 907.3 L451.2 909.5 L449.0 917.1 L445.7 922.5 L439.2 923.6 L440.3 916.0 L437.1 913.8 L432.8 920.3 L428.4 925.7 L424.1 921.4 L426.3 917.1 L421.9 925.7 L419.8 919.2 Z M440.3 855.4 L443.6 845.6 L441.4 841.3 L446.8 833.7 L443.6 830.5 L447.9 821.8 L456.6 818.6 L463.1 816.4 L467.4 811.0 L473.9 806.7 M437.1 873.8 L443.6 867.3 L447.9 864.0 L452.2 858.6 L458.7 856.4 L452.2 867.3 L463.1 867.3 L469.6 873.8 L468.5 884.6 L465.2 887.8 L460.9 896.5 L459.8 901.9 L454.4 907.3 M470.6 816.4 L477.1 814.2 L482.0 819.6 M458.7 853.2 L464.1 848.9 L470.6 851.0 L468.5 856.4 L460.9 857.5 Z M463.1 830.5 L468.5 824.0 L473.9 826.1 L476.0 830.5 L470.6 839.1 L463.1 839.1 Z M439.2 893.2 L443.6 892.7 L445.7 895.4 L442.5 897.6 Z M410.0 884.6 L412.7 882.4 L414.4 886.8 L412.2 887.8 Z M482.0 927.3 L478.2 929.0 L476.6 934.4 L475.5 936.0 M482.0 868.4 L488.5 872.7 L492.8 868.4 L492.8 865.1 L499.3 862.4 L505.8 864.0 L510.1 867.3 L514.5 871.6 L517.7 877.0 L518.8 883.5 L514.5 885.7 L509.1 884.6 L503.6 886.2 L499.3 883.5 L493.9 884.6 L492.3 890.0 L488.5 889.5 L486.3 893.2 L487.4 899.7 L488.5 906.2 L484.2 912.7 L482.0 914.9 M503.6 886.2 L509.1 887.8 L515.6 887.3 L519.9 892.2 L522.0 896.5 L524.2 893.2 L530.7 893.2 L536.1 896.5 L538.3 901.9 L534.0 903.5 L536.1 907.3 L540.4 907.3 L541.5 910.6 L536.1 913.8 L532.9 919.2 L530.7 925.7 L527.5 930.0 L527.5 936.0 M490.7 831.6 L493.9 830.5 L496.1 837.0 L493.9 840.2 L491.2 835.9 Z M492.8 844.5 L498.2 845.6 L497.2 848.3 L493.9 846.7 Z M492.8 856.4 L498.2 853.2 L499.3 854.3 L495.0 858.1 Z M482.0 820.7 L486.3 822.9 L484.2 827.2 L482.0 826.1 M482.0 833.7 L487.4 835.9 L489.6 840.2 L485.2 844.5 L482.0 841.3 M482.0 854.3 L485.2 858.6 L484.2 864.0 L482.0 862.9 M489.6 861.9 L495.0 859.7 L493.9 861.9 L489.6 862.9 Z M561.0 918.1 L566.4 912.7 L571.8 911.1 L574.0 914.9 L570.8 917.1 L568.6 916.0 L569.7 922.5 L570.8 927.9 L568.6 931.1 L565.3 925.7 L562.1 922.5 Z M571.8 922.5 L575.1 921.4 L576.2 924.6 L574.0 925.7 Z M584.3 899.7 L586.4 897.0 L587.5 899.2 L585.4 901.4 Z M595.1 863.5 L600.0 860.2 L604.3 857.0 L608.1 852.7 L610.3 857.0 L604.3 858.6 L605.4 864.0 L600.0 866.2 Z M589.2 802.3 L592.4 806.7 L595.6 813.2 L598.9 815.3 L601.6 812.1 L598.9 808.8 L594.6 805.6 L591.3 802.3 Z M601.1 801.2 L603.2 800.2 L604.8 802.3 L602.7 804.0 Z M620.0 837.0 L616.2 839.1 L613.5 843.5 L614.0 848.9 L611.3 851.6 L616.2 854.3 L620.0 857.5 M620.0 912.7 L617.3 906.2 L615.7 899.7 L614.6 892.7 L611.9 893.2 L612.4 899.7 L615.1 910.6 L620.0 920.3 M619.0 804.5 L623.3 804.5 L623.3 808.8 L619.0 812.1 M619.0 821.3 L623.3 822.4 L624.4 829.4 L627.7 835.3 L624.4 841.3 L622.2 838.0 L619.0 834.8 M619.0 858.6 L622.2 862.9 L625.5 867.3 L629.8 872.7 L632.0 879.2 L635.2 881.9 L641.2 881.3 L638.5 884.6 L639.0 890.0 L642.8 890.5 L634.2 891.1 L632.0 895.4 L635.2 900.8 L640.6 906.2 L647.1 908.4 L653.6 906.2 L650.4 911.6 L643.9 917.1 L642.3 923.6 L639.6 931.1 L636.9 936.0 M632.0 895.4 L640.6 894.3 L650.4 897.6 L654.7 896.0 L660.1 896.5 L664.5 901.9 L665.5 906.2 L662.3 903.5 L656.9 899.7 L649.3 899.2 L642.8 898.1 L636.3 898.7 Z M619.0 910.6 L623.3 917.1 L628.7 921.4 L632.5 920.3 L629.8 924.6 L623.3 925.2 L619.0 919.2 M412.2 935.0 L408.9 940.4 L404.6 946.9 L399.2 949.6 L398.1 954.5 L397.0 966.4 L394.9 972.9 L391.6 976.7 L387.3 978.3 L380.8 977.8 L376.5 972.3 L374.3 971.3 M378.6 978.3 L387.3 979.4 L385.1 981.5 L379.7 981.5 Z M458.7 935.0 L452.2 940.4 L447.9 946.9 L444.7 954.5 L441.4 961.0 L440.3 966.4 L443.6 970.7 L444.1 977.8 L447.9 977.2 L455.5 970.7 L463.1 968.6 L467.4 964.2 L471.7 962.6 L477.1 963.7 L482.0 964.8 M526.4 935.0 L525.3 939.3 L523.1 942.6 L520.4 943.7 L518.8 946.4 L516.6 948.0 L514.5 952.3 L513.9 957.2 L511.2 957.7 L510.7 953.9 L508.0 957.7 L501.5 963.1 L496.1 964.2 L488.5 962.1 L482.0 965.3 M500.9 979.9 L503.6 978.3 L506.9 980.5 L510.1 982.6 L514.5 981.5 L519.9 983.2 L521.0 988.0 L517.7 992.4 L512.3 994.0 L508.0 995.1 L504.2 992.4 L500.4 988.0 L502.6 984.8 Z M620.0 952.3 L611.9 953.9 L604.3 955.0 L601.1 951.8 L596.7 951.2 L591.3 954.5 L590.2 959.4 L584.8 963.1 L581.6 971.8 L578.3 983.7 L575.6 993.4 L570.8 1001.0 L565.3 1006.4 L562.6 1012.9 L564.3 1020.5 L566.4 1027.0 L570.8 1029.7 L575.1 1028.1 L579.4 1021.6 L583.7 1028.1 L589.2 1038.9 L590.2 1041.6 L585.9 1038.9 L583.7 1042.2 L589.2 1046.5 L595.6 1046.5 L598.9 1038.9 L598.9 1027.0 L600.0 1015.1 L595.6 1009.7 L593.5 999.9 L596.7 989.1 L598.4 981.5 L601.1 979.4 L604.3 980.5 L602.1 991.3 L602.1 997.8 L605.4 1004.3 L611.9 1007.5 L620.0 1004.3 M576.2 1034.6 L580.5 1030.8 L582.1 1034.6 L581.6 1038.9 L579.4 1044.3 L576.2 1043.2 L575.6 1037.8 Z M577.2 1047.6 L579.4 1051.9 L574.0 1054.1 L567.5 1057.3 L564.3 1062.7 L559.9 1066.0 L556.7 1070.3 L553.4 1071.9 M582.7 1046.5 L588.1 1049.7 L594.6 1047.6 L596.7 1048.6 L604.3 1043.2 L611.9 1040.0 L613.0 1037.8 L620.0 1034.6 M550.2 1053.0 L549.1 1049.7 L545.9 1046.5 L541.5 1042.2 L544.8 1038.9 L544.8 1033.5 L539.4 1033.5 L542.6 1028.6 L537.2 1028.1 L534.0 1032.4 L532.9 1037.8 L536.1 1042.2 L534.0 1045.4 L539.4 1049.7 L541.5 1054.1 L538.3 1057.3 L535.0 1055.1 L536.1 1060.6 L534.0 1063.8 L538.3 1067.0 L534.0 1069.8 M528.5 1045.4 L532.3 1049.7 L530.7 1056.2 L526.4 1061.6 L521.0 1064.3 L517.2 1062.7 L519.9 1058.4 L519.3 1051.9 L523.1 1047.6 Z M620.0 1010.8 L615.1 1012.9 L614.0 1018.3 L617.3 1021.6 L613.0 1024.8 L614.0 1032.4 L616.2 1034.6 L620.0 1032.4 M635.2 935.0 L636.3 939.3 L636.9 945.8 L634.2 949.1 L629.8 945.3 L626.6 946.4 L628.7 950.2 L633.1 953.9 L630.4 961.0 L630.9 966.4 L626.6 967.5 L629.8 973.4 L625.5 974.0 M619.0 951.2 L624.4 956.6 L626.6 963.1 L623.3 966.4 L619.0 968.6 M619.0 1002.1 L623.3 1001.0 L625.0 1004.3 L621.2 1007.5 L619.0 1006.4 Z" fill="none" stroke="#000" stroke-width="0.7" stroke-linejoin="round" opacity="0.85"/></g>
</g>
<circle cx="550.30" cy="866.10" r="206.00" fill="none" stroke="#000" stroke-width="1.7"/>
<g clip-path="url(#c3)">
<g filter="url(#f3)">
<g filter="url(#f3b)">
<rect x="314.25" y="1125.00" width="44.05" height="44.05" fill="#313131"/>
<rect x="358.00" y="1125.00" width="82.80" height="44.05" fill="#454545"/>
<rect x="440.50" y="1125.00" width="55.30" height="44.05" fill="#939393"/>
<rect x="495.50" y="1125.00" width="27.80" height="44.05" fill="#a7a7a7"/>
<rect x="523.00" y="1125.00" width="14.05" height="44.05" fill="#939393"/>
<rect x="536.75" y="1125.00" width="14.05" height="44.05" fill="#a7a7a7"/>
<rect x="550.50" y="1125.00" width="14.05" height="44.05" fill="#bababa"/>
<rect x="564.25" y="1125.00" width="14.05" height="44.05" fill="#a7a7a7"/>
<rect x="578.00" y="1125.00" width="14.05" height="44.05" fill="#bababa"/>
<rect x="591.75" y="1125.00" width="14.05" height="44.05" fill="#cecece"/>
<rect x="605.50" y="1125.00" width="41.55" height="44.05" fill="#e2e2e2"/>
<rect x="646.75" y="1125.00" width="41.55" height="44.05" fill="#939393"/>
<rect x="688.00" y="1125.00" width="55.30" height="44.05" fill="#585858"/>
<rect x="743.00" y="1125.00" width="44.05" height="44.05" fill="#6c6c6c"/>
<rect x="314.25" y="1168.75" width="57.80" height="14.05" fill="#313131"/>
<rect x="371.75" y="1168.75" width="69.05" height="14.05" fill="#454545"/>
<rect x="440.50" y="1168.75" width="55.30" height="14.05" fill="#939393"/>
<rect x="495.50" y="1168.75" width="27.80" height="14.05" fill="#bababa"/>
<rect x="523.00" y="1168.75" width="27.80" height="14.05" fill="#a7a7a7"/>
<rect x="550.50" y="1168.75" width="14.05" height="14.05" fill="#bababa"/>
<rect x="564.25" y="1168.75" width="14.05" height="14.05" fill="#cecece"/>
<rect x="578.00" y="1168.75" width="27.80" height="14.05" fill="#e2e2e2"/>
<rect x="605.50" y="1168.75" width="14.05" height="14.05" fill="#cecece"/>
<rect x="619.25" y="1168.75" width="14.05" height="14.05" fill="#bababa"/>
<rect x="633.00" y="1168.75" width="14.05" height="14.05" fill="#a7a7a7"/>
<rect x="646.75" y="1168.75" width="27.80" height="14.05" fill="#939393"/>
<rect x="674.25" y="1168.75" width="55.30" height="14.05" fill="#585858"/>
<rect x="729.25" y="1168.75" width="57.80" height="14.05" fill="#6c6c6c"/>
<rect x="314.25" y="1182.50" width="44.05" height="14.05" fill="#1d1d1d"/>
<rect x="358.00" y="1182.50" width="27.80" height="14.05" fill="#313131"/>
<rect x="385.50" y="1182.50" width="55.30" height="14.05" fill="#454545"/>
<rect x="440.50" y="1182.50" width="27.80" height="14.05" fill="#939393"/>
<rect x="468.00" y="1182.50" width="55.30" height="14.05" fill="#a7a7a7"/>
<rect x="523.00" y="1182.50" width="27.80" height="14.05" fill="#bababa"/>
<rect x="550.50" y="1182.50" width="14.05" height="14.05" fill="#939393"/>
<rect x="564.25" y="1182.50" width="27.80" height="14.05" fill="#a7a7a7"/>
<rect x="591.75" y="1182.50" width="14.05" height="14.05" fill="#939393"/>
<rect x="605.50" y="1182.50" width="27.80" height="14.05" fill="#6c6c6c"/>
<rect x="633.00" y="1182.50" width="27.80" height="14.05" fill="#808080"/>
<rect x="660.50" y="1182.50" width="55.30" height="14.05" fill="#585858"/>
<rect x="715.50" y="1182.50" width="27.80" height="14.05" fill="#6c6c6c"/>
<rect x="743.00" y="1182.50" width="44.05" height="14.05" fill="#454545"/>
<rect x="314.25" y="1196.25" width="57.80" height="14.05" fill="#1d1d1d"/>
<rect x="371.75" y="1196.25" width="27.80" height="14.05" fill="#313131"/>
<rect x="399.25" y="1196.25" width="27.80" height="14.05" fill="#454545"/>
<rect x="426.75" y="1196.25" width="14.05" height="14.05" fill="#585858"/>
<rect x="440.50" y="1196.25" width="14.05" height="14.05" fill="#939393"/>
<rect x="454.25" y="1196.25" width="14.05" height="14.05" fill="#a7a7a7"/>
<rect x="468.00" y="1196.25" width="27.80" height="14.05" fill="#cecece"/>
<rect x="495.50" y="1196.25" width="27.80" height="14.05" fill="#a7a7a7"/>
<rect x="523.00" y="1196.25" width="27.80" height="14.05" fill="#bababa"/>
<rect x="550.50" y="1196.25" width="27.80" height="14.05" fill="#808080"/>
<rect x="578.00" y="1196.25" width="14.05" height="14.05" fill="#585858"/>
<rect x="591.75" y="1196.25" width="14.05" height="14.05" fill="#454545"/>
<rect x="605.50" y="1196.25" width="14.05" height="14.05" fill="#313131"/>
<rect x="619.25" y="1196.25" width="14.05" height="14.05" fill="#454545"/>
<rect x="633.00" y="1196.25" width="14.05" height="14.05" fill="#585858"/>
<rect x="646.75" y="1196.25" width="14.05" height="14.05" fill="#6c6c6c"/>
<rect x="660.50" y="1196.25" width="14.05" height="14.05" fill="#454545"/>
<rect x="674.25" y="1196.25" width="27.80" height="14.05" fill="#585858"/>
<rect x="701.75" y="1196.25" width="27.80" height="14.05" fill="#6c6c6c"/>
<rect x="729.25" y="1196.25" width="57.80" height="14.05" fill="#454545"/>
<rect x="314.25" y="1210.00" width="71.55" height="14.05" fill="#1d1d1d"/>
<rect x="385.50" y="1210.00" width="41.55" height="14.05" fill="#313131"/>
<rect x="426.75" y="1210.00" width="14.05" height="14.05" fill="#585858"/>
<rect x="440.50" y="1210.00" width="14.05" height="14.05" fill="#a7a7a7"/>
<rect x="454.25" y="1210.00" width="14.05" height="14.05" fill="#cecece"/>
<rect x="468.00" y="1210.00" width="14.05" height="14.05" fill="#e2e2e2"/>
<rect x="481.75" y="1210.00" width="14.05" height="14.05" fill="#f5f5f5"/>
<rect x="495.50" y="1210.00" width="14.05" height="14.05" fill="#bababa"/>
<rect x="509.25" y="1210.00" width="14.05" height="14.05" fill="#939393"/>
<rect x="523.00" y="1210.00" width="14.05" height="14.05" fill="#a7a7a7"/>
<rect x="536.75" y="1210.00" width="27.80" height="14.05" fill="#bababa"/>
<rect x="564.25" y="1210.00" width="14.05" height="14.05" fill="#939393"/>
<rect x="578.00" y="1210.00" width="14.05" height="14.05" fill="#6c6c6c"/>
<rect x="591.75" y="1210.00" width="27.80" height="14.05" fill="#454545"/>
<rect x="619.25" y="1210.00" width="14.05" height="14.05" fill="#313131"/>
<rect x="633.00" y="1210.00" width="14.05" height="14.05" fill="#454545"/>
<rect x="646.75" y="1210.00" width="14.05" height="14.05" fill="#6c6c6c"/>
<rect x="660.50" y="1210.00" width="14.05" height="14.05" fill="#454545"/>
<rect x="674.25" y="1210.00" width="14.05" height="14.05" fill="#585858"/>
<rect x="688.00" y="1210.00" width="27.80" height="14.05" fill="#6c6c6c"/>
<rect x="715.50" y="1210.00" width="71.55" height="14.05" fill="#454545"/>
<rect x="314.25" y="1223.75" width="85.30" height="14.05" fill="#1d1d1d"/>
<rect x="399.25" y="1223.75" width="14.05" height="14.05" fill="#0a0a0a"/>
<rect x="413.00" y="1223.75" width="14.05" height="14.05" fill="#1d1d1d"/>
<rect x="426.75" y="1223.75" width="14.05" height="14.05" fill="#313131"/>
<rect x="440.50" y="1223.75" width="14.05" height="14.05" fill="#939393"/>
<rect x="454.25" y="1223.75" width="14.05" height="14.05" fill="#e2e2e2"/>
<rect x="468.00" y="1223.75" width="14.05" height="14.05" fill="#f5f5f5"/>
<rect x="481.75" y="1223.75" width="14.05" height="14.05" fill="#e2e2e2"/>
<rect x="495.50" y="1223.75" width="14.05" height="14.05" fill="#bababa"/>
<rect x="509.25" y="1223.75" width="14.05" height="14.05" fill="#a7a7a7"/>
<rect x="523.00" y="1223.75" width="14.05" height="14.05" fill="#939393"/>
<rect x="536.75" y="1223.75" width="14.05" height="14.05" fill="#bababa"/>
<rect x="550.50" y="1223.75" width="14.05" height="14.05" fill="#cecece"/>
<rect x="564.25" y="1223.75" width="14.05" height="14.05" fill="#bababa"/>
<rect x="578.00" y="1223.75" width="14.05" height="14.05" fill="#808080"/>
<rect x="591.75" y="1223.75" width="27.80" height="14.05" fill="#6c6c6c"/>
<rect x="619.25" y="1223.75" width="27.80" height="14.05" fill="#313131"/>
<rect x="646.75" y="1223.75" width="27.80" height="14.05" fill="#454545"/>
<rect x="674.25" y="1223.75" width="14.05" height="14.05" fill="#6c6c6c"/>
<rect x="688.00" y="1223.75" width="14.05" height="14.05" fill="#585858"/>
<rect x="701.75" y="1223.75" width="85.30" height="14.05" fill="#454545"/>
<rect x="314.25" y="1237.50" width="71.55" height="14.05" fill="#1d1d1d"/>
<rect x="385.50" y="1237.50" width="55.30" height="14.05" fill="#0a0a0a"/>
<rect x="440.50" y="1237.50" width="14.05" height="14.05" fill="#1d1d1d"/>
<rect x="454.25" y="1237.50" width="14.05" height="14.05" fill="#808080"/>
<rect x="468.00" y="1237.50" width="14.05" height="14.05" fill="#a7a7a7"/>
<rect x="481.75" y="1237.50" width="27.80" height="14.05" fill="#bababa"/>
<rect x="509.25" y="1237.50" width="14.05" height="14.05" fill="#a7a7a7"/>
<rect x="523.00" y="1237.50" width="14.05" height="14.05" fill="#939393"/>
<rect x="536.75" y="1237.50" width="14.05" height="14.05" fill="#a7a7a7"/>
<rect x="550.50" y="1237.50" width="14.05" height="14.05" fill="#bababa"/>
<rect x="564.25" y="1237.50" width="14.05" height="14.05" fill="#a7a7a7"/>
<rect x="578.00" y="1237.50" width="41.55" height="14.05" fill="#939393"/>
<rect x="619.25" y="1237.50" width="14.05" height="14.05" fill="#585858"/>
<rect x="633.00" y="1237.50" width="27.80" height="14.05" fill="#313131"/>
<rect x="660.50" y="1237.50" width="27.80" height="14.05" fill="#808080"/>
<rect x="688.00" y="1237.50" width="14.05" height="14.05" fill="#585858"/>
<rect x="701.75" y="1237.50" width="14.05" height="14.05" fill="#313131"/>
<rect x="715.50" y="1237.50" width="71.55" height="14.05" fill="#454545"/>
<rect x="314.25" y="1251.25" width="44.05" height="14.05" fill="#0a0a0a"/>
<rect x="358.00" y="1251.25" width="27.80" height="14.05" fill="#454545"/>
<rect x="385.50" y="1251.25" width="14.05" height="14.05" fill="#313131"/>
<rect x="399.25" y="1251.25" width="27.80" height="14.05" fill="#1d1d1d"/>
<rect x="426.75" y="1251.25" width="14.05" height="14.05" fill="#313131"/>
<rect x="440.50" y="1251.25" width="14.05" height="14.05" fill="#6c6c6c"/>
<rect x="454.25" y="1251.25" width="41.55" height="14.05" fill="#808080"/>
<rect x="495.50" y="1251.25" width="27.80" height="14.05" fill="#939393"/>
<rect x="523.00" y="1251.25" width="14.05" height="14.05" fill="#808080"/>
<rect x="536.75" y="1251.25" width="14.05" height="14.05" fill="#939393"/>
<rect x="550.50" y="1251.25" width="14.05" height="14.05" fill="#cecece"/>
<rect x="564.25" y="1251.25" width="14.05" height="14.05" fill="#bababa"/>
<rect x="578.00" y="1251.25" width="27.80" height="14.05" fill="#a7a7a7"/>
<rect x="605.50" y="1251.25" width="14.05" height="14.05" fill="#939393"/>
<rect x="619.25" y="1251.25" width="14.05" height="14.05" fill="#6c6c6c"/>
<rect x="633.00" y="1251.25" width="14.05" height="14.05" fill="#313131"/>
<rect x="646.75" y="1251.25" width="14.05" height="14.05" fill="#454545"/>
<rect x="660.50" y="1251.25" width="14.05" height="14.05" fill="#808080"/>
<rect x="674.25" y="1251.25" width="14.05" height="14.05" fill="#6c6c6c"/>
<rect x="688.00" y="1251.25" width="27.80" height="14.05" fill="#313131"/>
<rect x="715.50" y="1251.25" width="27.80" height="14.05" fill="#454545"/>
<rect x="743.00" y="1251.25" width="44.05" height="14.05" fill="#939393"/>
<rect x="314.25" y="1265.00" width="99.05" height="14.05" fill="#0a0a0a"/>
<rect x="413.00" y="1265.00" width="14.05" height="14.05" fill="#1d1d1d"/>
<rect x="426.75" y="1265.00" width="14.05" height="14.05" fill="#454545"/>
<rect x="440.50" y="1265.00" width="14.05" height="14.05" fill="#585858"/>
<rect x="454.25" y="1265.00" width="41.55" height="14.05" fill="#6c6c6c"/>
<rect x="495.50" y="1265.00" width="14.05" height="14.05" fill="#808080"/>
<rect x="509.25" y="1265.00" width="14.05" height="14.05" fill="#939393"/>
<rect x="523.00" y="1265.00" width="14.05" height="14.05" fill="#a7a7a7"/>
<rect x="536.75" y="1265.00" width="14.05" height="14.05" fill="#bababa"/>
<rect x="550.50" y="1265.00" width="14.05" height="14.05" fill="#cecece"/>
<rect x="564.25" y="1265.00" width="14.05" height="14.05" fill="#bababa"/>
<rect x="578.00" y="1265.00" width="14.05" height="14.05" fill="#a7a7a7"/>
<rect x="591.75" y="1265.00" width="14.05" height="14.05" fill="#939393"/>
<rect x="605.50" y="1265.00" width="14.05" height="14.05" fill="#808080"/>
<rect x="619.25" y="1265.00" width="14.05" height="14.05" fill="#6c6c6c"/>
<rect x="633.00" y="1265.00" width="27.80" height="14.05" fill="#585858"/>
<rect x="660.50" y="1265.00" width="14.05" height="14.05" fill="#6c6c6c"/>
<rect x="674.25" y="1265.00" width="14.05" height="14.05" fill="#454545"/>
<rect x="688.00" y="1265.00" width="27.80" height="14.05" fill="#313131"/>
<rect x="715.50" y="1265.00" width="14.05" height="14.05" fill="#6c6c6c"/>
<rect x="729.25" y="1265.00" width="57.80" height="14.05" fill="#939393"/>
<rect x="314.25" y="1278.75" width="57.80" height="14.05" fill="#1d1d1d"/>
<rect x="371.75" y="1278.75" width="14.05" height="14.05" fill="#0a0a0a"/>
<rect x="385.50" y="1278.75" width="14.05" height="14.05" fill="#1d1d1d"/>
<rect x="399.25" y="1278.75" width="14.05" height="14.05" fill="#313131"/>
<rect x="413.00" y="1278.75" width="14.05" height="14.05" fill="#454545"/>
<rect x="426.75" y="1278.75" width="27.80" height="14.05" fill="#313131"/>
<rect x="454.25" y="1278.75" width="14.05" height="14.05" fill="#585858"/>
<rect x="468.00" y="1278.75" width="14.05" height="14.05" fill="#6c6c6c"/>
<rect x="481.75" y="1278.75" width="14.05" height="14.05" fill="#808080"/>
<rect x="495.50" y="1278.75" width="14.05" height="14.05" fill="#a7a7a7"/>
<rect x="509.25" y="1278.75" width="14.05" height="14.05" fill="#bababa"/>
<rect x="523.00" y="1278.75" width="27.80" height="14.05" fill="#cecece"/>
<rect x="550.50" y="1278.75" width="14.05" height="14.05" fill="#bababa"/>
<rect x="564.25" y="1278.75" width="14.05" height="14.05" fill="#939393"/>
<rect x="578.00" y="1278.75" width="27.80" height="14.05" fill="#808080"/>
<rect x="605.50" y="1278.75" width="27.80" height="14.05" fill="#6c6c6c"/>
<rect x="633.00" y="1278.75" width="27.80" height="14.05" fill="#585858"/>
<rect x="660.50" y="1278.75" width="14.05" height="14.05" fill="#6c6c6c"/>
<rect x="674.25" y="1278.75" width="14.05" height="14.05" fill="#454545"/>
<rect x="688.00" y="1278.75" width="14.05" height="14.05" fill="#313131"/>
<rect x="701.75" y="1278.75" width="14.05" height="14.05" fill="#454545"/>
<rect x="715.50" y="1278.75" width="14.05" height="14.05" fill="#6c6c6c"/>
<rect x="729.25" y="1278.75" width="57.80" height="14.05" fill="#a7a7a7"/>
<rect x="314.25" y="1292.50" width="71.55" height="14.05" fill="#313131"/>
<rect x="385.50" y="1292.50" width="14.05" height="14.05" fill="#1d1d1d"/>
<rect x="399.25" y="1292.50" width="14.05" height="14.05" fill="#313131"/>
<rect x="413.00" y="1292.50" width="14.05" height="14.05" fill="#585858"/>
<rect x="426.75" y="1292.50" width="14.05" height="14.05" fill="#6c6c6c"/>
<rect x="440.50" y="1292.50" width="27.80" height="14.05" fill="#939393"/>
<rect x="468.00" y="1292.50" width="151.55" height="14.05" fill="#808080"/>
<rect x="619.25" y="1292.50" width="27.80" height="14.05" fill="#585858"/>
<rect x="646.75" y="1292.50" width="69.05" height="14.05" fill="#6c6c6c"/>
<rect x="715.50" y="1292.50" width="14.05" height="14.05" fill="#808080"/>
<rect x="729.25" y="1292.50" width="14.05" height="14.05" fill="#bababa"/>
<rect x="743.00" y="1292.50" width="44.05" height="14.05" fill="#a7a7a7"/>
<rect x="314.25" y="1306.25" width="57.80" height="14.05" fill="#313131"/>
<rect x="371.75" y="1306.25" width="55.30" height="14.05" fill="#454545"/>
<rect x="426.75" y="1306.25" width="14.05" height="14.05" fill="#6c6c6c"/>
<rect x="440.50" y="1306.25" width="82.80" height="14.05" fill="#808080"/>
<rect x="523.00" y="1306.25" width="69.05" height="14.05" fill="#6c6c6c"/>
<rect x="591.75" y="1306.25" width="27.80" height="14.05" fill="#808080"/>
<rect x="619.25" y="1306.25" width="14.05" height="14.05" fill="#585858"/>
<rect x="633.00" y="1306.25" width="55.30" height="14.05" fill="#454545"/>
<rect x="688.00" y="1306.25" width="14.05" height="14.05" fill="#585858"/>
<rect x="701.75" y="1306.25" width="14.05" height="14.05" fill="#6c6c6c"/>
<rect x="715.50" y="1306.25" width="14.05" height="14.05" fill="#808080"/>
<rect x="729.25" y="1306.25" width="14.05" height="14.05" fill="#a7a7a7"/>
<rect x="743.00" y="1306.25" width="44.05" height="14.05" fill="#939393"/>
<rect x="314.25" y="1320.00" width="44.05" height="14.05" fill="#1d1d1d"/>
<rect x="358.00" y="1320.00" width="14.05" height="14.05" fill="#313131"/>
<rect x="371.75" y="1320.00" width="14.05" height="14.05" fill="#454545"/>
<rect x="385.50" y="1320.00" width="14.05" height="14.05" fill="#585858"/>
<rect x="399.25" y="1320.00" width="14.05" height="14.05" fill="#454545"/>
<rect x="413.00" y="1320.00" width="14.05" height="14.05" fill="#585858"/>
<rect x="426.75" y="1320.00" width="14.05" height="14.05" fill="#6c6c6c"/>
<rect x="440.50" y="1320.00" width="82.80" height="14.05" fill="#808080"/>
<rect x="523.00" y="1320.00" width="14.05" height="14.05" fill="#6c6c6c"/>
<rect x="536.75" y="1320.00" width="14.05" height="14.05" fill="#585858"/>
<rect x="550.50" y="1320.00" width="27.80" height="14.05" fill="#6c6c6c"/>
<rect x="578.00" y="1320.00" width="41.55" height="14.05" fill="#808080"/>
<rect x="619.25" y="1320.00" width="14.05" height="14.05" fill="#6c6c6c"/>
<rect x="633.00" y="1320.00" width="14.05" height="14.05" fill="#585858"/>
<rect x="646.75" y="1320.00" width="27.80" height="14.05" fill="#454545"/>
<rect x="674.25" y="1320.00" width="14.05" height="14.05" fill="#313131"/>
<rect x="688.00" y="1320.00" width="14.05" height="14.05" fill="#454545"/>
<rect x="701.75" y="1320.00" width="14.05" height="14.05" fill="#585858"/>
<rect x="715.50" y="1320.00" width="14.05" height="14.05" fill="#6c6c6c"/>
<rect x="729.25" y="1320.00" width="14.05" height="14.05" fill="#808080"/>
<rect x="743.00" y="1320.00" width="44.05" height="14.05" fill="#bababa"/>
<rect x="314.25" y="1333.75" width="44.05" height="14.05" fill="#1d1d1d"/>
<rect x="358.00" y="1333.75" width="14.05" height="14.05" fill="#454545"/>
<rect x="371.75" y="1333.75" width="27.80" height="14.05" fill="#808080"/>
<rect x="399.25" y="1333.75" width="14.05" height="14.05" fill="#454545"/>
<rect x="413.00" y="1333.75" width="14.05" height="14.05" fill="#585858"/>
<rect x="426.75" y="1333.75" width="14.05" height="14.05" fill="#6c6c6c"/>
<rect x="440.50" y="1333.75" width="69.05" height="14.05" fill="#808080"/>
<rect x="509.25" y="1333.75" width="69.05" height="14.05" fill="#6c6c6c"/>
<rect x="578.00" y="1333.75" width="27.80" height="14.05" fill="#808080"/>
<rect x="605.50" y="1333.75" width="55.30" height="14.05" fill="#6c6c6c"/>
<rect x="660.50" y="1333.75" width="14.05" height="14.05" fill="#808080"/>
<rect x="674.25" y="1333.75" width="14.05" height="14.05" fill="#6c6c6c"/>
<rect x="688.00" y="1333.75" width="14.05" height="14.05" fill="#313131"/>
<rect x="701.75" y="1333.75" width="14.05" height="14.05" fill="#454545"/>
<rect x="715.50" y="1333.75" width="14.05" height="14.05" fill="#6c6c6c"/>
<rect x="729.25" y="1333.75" width="14.05" height="14.05" fill="#585858"/>
<rect x="743.00" y="1333.75" width="44.05" height="14.05" fill="#bababa"/>
<rect x="314.25" y="1347.50" width="57.80" height="14.05" fill="#313131"/>
<rect x="371.75" y="1347.50" width="14.05" height="14.05" fill="#6c6c6c"/>
<rect x="385.50" y="1347.50" width="14.05" height="14.05" fill="#808080"/>
<rect x="399.25" y="1347.50" width="14.05" height="14.05" fill="#585858"/>
<rect x="413.00" y="1347.50" width="14.05" height="14.05" fill="#939393"/>
<rect x="426.75" y="1347.50" width="27.80" height="14.05" fill="#808080"/>
<rect x="454.25" y="1347.50" width="27.80" height="14.05" fill="#6c6c6c"/>
<rect x="481.75" y="1347.50" width="14.05" height="14.05" fill="#808080"/>
<rect x="495.50" y="1347.50" width="69.05" height="14.05" fill="#6c6c6c"/>
<rect x="564.25" y="1347.50" width="55.30" height="14.05" fill="#808080"/>
<rect x="619.25" y="1347.50" width="14.05" height="14.05" fill="#6c6c6c"/>
<rect x="633.00" y="1347.50" width="14.05" height="14.05" fill="#585858"/>
<rect x="646.75" y="1347.50" width="27.80" height="14.05" fill="#6c6c6c"/>
<rect x="674.25" y="1347.50" width="14.05" height="14.05" fill="#454545"/>
<rect x="688.00" y="1347.50" width="14.05" height="14.05" fill="#0a0a0a"/>
<rect x="701.75" y="1347.50" width="14.05" height="14.05" fill="#313131"/>
<rect x="715.50" y="1347.50" width="14.05" height="14.05" fill="#585858"/>
<rect x="729.25" y="1347.50" width="14.05" height="14.05" fill="#6c6c6c"/>
<rect x="743.00" y="1347.50" width="44.05" height="14.05" fill="#585858"/>
<rect x="314.25" y="1361.25" width="44.05" height="14.05" fill="#585858"/>
<rect x="358.00" y="1361.25" width="14.05" height="14.05" fill="#454545"/>
<rect x="371.75" y="1361.25" width="14.05" height="14.05" fill="#808080"/>
<rect x="385.50" y="1361.25" width="14.05" height="14.05" fill="#6c6c6c"/>
<rect x="399.25" y="1361.25" width="27.80" height="14.05" fill="#585858"/>
<rect x="426.75" y="1361.25" width="27.80" height="14.05" fill="#6c6c6c"/>
<rect x="454.25" y="1361.25" width="55.30" height="14.05" fill="#808080"/>
<rect x="509.25" y="1361.25" width="41.55" height="14.05" fill="#6c6c6c"/>
<rect x="550.50" y="1361.25" width="69.05" height="14.05" fill="#808080"/>
<rect x="619.25" y="1361.25" width="14.05" height="14.05" fill="#6c6c6c"/>
<rect x="633.00" y="1361.25" width="41.55" height="14.05" fill="#585858"/>
<rect x="674.25" y="1361.25" width="14.05" height="14.05" fill="#313131"/>
<rect x="688.00" y="1361.25" width="14.05" height="14.05" fill="#0a0a0a"/>
<rect x="701.75" y="1361.25" width="14.05" height="14.05" fill="#1d1d1d"/>
<rect x="715.50" y="1361.25" width="14.05" height="14.05" fill="#585858"/>
<rect x="729.25" y="1361.25" width="14.05" height="14.05" fill="#454545"/>
<rect x="743.00" y="1361.25" width="44.05" height="14.05" fill="#313131"/>
<rect x="314.25" y="1375.00" width="57.80" height="14.05" fill="#808080"/>
<rect x="371.75" y="1375.00" width="27.80" height="14.05" fill="#939393"/>
<rect x="399.25" y="1375.00" width="27.80" height="14.05" fill="#6c6c6c"/>
<rect x="426.75" y="1375.00" width="41.55" height="14.05" fill="#808080"/>
<rect x="468.00" y="1375.00" width="14.05" height="14.05" fill="#939393"/>
<rect x="481.75" y="1375.00" width="14.05" height="14.05" fill="#a7a7a7"/>
<rect x="495.50" y="1375.00" width="14.05" height="14.05" fill="#939393"/>
<rect x="509.25" y="1375.00" width="14.05" height="14.05" fill="#808080"/>
<rect x="523.00" y="1375.00" width="41.55" height="14.05" fill="#6c6c6c"/>
<rect x="564.25" y="1375.00" width="69.05" height="14.05" fill="#808080"/>
<rect x="633.00" y="1375.00" width="41.55" height="14.05" fill="#6c6c6c"/>
<rect x="674.25" y="1375.00" width="14.05" height="14.05" fill="#313131"/>
<rect x="688.00" y="1375.00" width="14.05" height="14.05" fill="#1d1d1d"/>
<rect x="701.75" y="1375.00" width="14.05" height="14.05" fill="#313131"/>
<rect x="715.50" y="1375.00" width="14.05" height="14.05" fill="#6c6c6c"/>
<rect x="729.25" y="1375.00" width="14.05" height="14.05" fill="#585858"/>
<rect x="743.00" y="1375.00" width="44.05" height="14.05" fill="#454545"/>
<rect x="314.25" y="1388.75" width="57.80" height="14.05" fill="#808080"/>
<rect x="371.75" y="1388.75" width="14.05" height="14.05" fill="#bababa"/>
<rect x="385.50" y="1388.75" width="14.05" height="14.05" fill="#cecece"/>
<rect x="399.25" y="1388.75" width="14.05" height="14.05" fill="#a7a7a7"/>
<rect x="413.00" y="1388.75" width="27.80" height="14.05" fill="#939393"/>
<rect x="440.50" y="1388.75" width="14.05" height="14.05" fill="#808080"/>
<rect x="454.25" y="1388.75" width="14.05" height="14.05" fill="#a7a7a7"/>
<rect x="468.00" y="1388.75" width="27.80" height="14.05" fill="#bababa"/>
<rect x="495.50" y="1388.75" width="14.05" height="14.05" fill="#cecece"/>
<rect x="509.25" y="1388.75" width="27.80" height="14.05" fill="#808080"/>
<rect x="536.75" y="1388.75" width="27.80" height="14.05" fill="#6c6c6c"/>
<rect x="564.25" y="1388.75" width="55.30" height="14.05" fill="#808080"/>
<rect x="619.25" y="1388.75" width="14.05" height="14.05" fill="#939393"/>
<rect x="633.00" y="1388.75" width="14.05" height="14.05" fill="#808080"/>
<rect x="646.75" y="1388.75" width="14.05" height="14.05" fill="#6c6c6c"/>
<rect x="660.50" y="1388.75" width="14.05" height="14.05" fill="#585858"/>
<rect x="674.25" y="1388.75" width="14.05" height="14.05" fill="#313131"/>
<rect x="688.00" y="1388.75" width="27.80" height="14.05" fill="#1d1d1d"/>
<rect x="715.50" y="1388.75" width="14.05" height="14.05" fill="#585858"/>
<rect x="729.25" y="1388.75" width="57.80" height="14.05" fill="#6c6c6c"/>
<rect x="314.25" y="1402.50" width="71.55" height="14.05" fill="#808080"/>
<rect x="385.50" y="1402.50" width="41.55" height="14.05" fill="#a7a7a7"/>
<rect x="426.75" y="1402.50" width="41.55" height="14.05" fill="#cecece"/>
<rect x="468.00" y="1402.50" width="27.80" height="14.05" fill="#e2e2e2"/>
<rect x="495.50" y="1402.50" width="14.05" height="14.05" fill="#a7a7a7"/>
<rect x="509.25" y="1402.50" width="27.80" height="14.05" fill="#808080"/>
<rect x="536.75" y="1402.50" width="14.05" height="14.05" fill="#6c6c6c"/>
<rect x="550.50" y="1402.50" width="27.80" height="14.05" fill="#808080"/>
<rect x="578.00" y="1402.50" width="14.05" height="14.05" fill="#939393"/>
<rect x="591.75" y="1402.50" width="14.05" height="14.05" fill="#808080"/>
<rect x="605.50" y="1402.50" width="14.05" height="14.05" fill="#939393"/>
<rect x="619.25" y="1402.50" width="14.05" height="14.05" fill="#a7a7a7"/>
<rect x="633.00" y="1402.50" width="27.80" height="14.05" fill="#808080"/>
<rect x="660.50" y="1402.50" width="14.05" height="14.05" fill="#6c6c6c"/>
<rect x="674.25" y="1402.50" width="14.05" height="14.05" fill="#454545"/>
<rect x="688.00" y="1402.50" width="27.80" height="14.05" fill="#1d1d1d"/>
<rect x="715.50" y="1402.50" width="14.05" height="14.05" fill="#454545"/>
<rect x="729.25" y="1402.50" width="57.80" height="14.05" fill="#6c6c6c"/>
<rect x="314.25" y="1416.25" width="44.05" height="14.05" fill="#585858"/>
<rect x="358.00" y="1416.25" width="14.05" height="14.05" fill="#454545"/>
<rect x="371.75" y="1416.25" width="14.05" height="14.05" fill="#6c6c6c"/>
<rect x="385.50" y="1416.25" width="14.05" height="14.05" fill="#808080"/>
<rect x="399.25" y="1416.25" width="14.05" height="14.05" fill="#a7a7a7"/>
<rect x="413.00" y="1416.25" width="14.05" height="14.05" fill="#939393"/>
<rect x="426.75" y="1416.25" width="14.05" height="14.05" fill="#a7a7a7"/>
<rect x="440.50" y="1416.25" width="14.05" height="14.05" fill="#bababa"/>
<rect x="454.25" y="1416.25" width="14.05" height="14.05" fill="#e2e2e2"/>
<rect x="468.00" y="1416.25" width="27.80" height="14.05" fill="#f5f5f5"/>
<rect x="495.50" y="1416.25" width="14.05" height="14.05" fill="#939393"/>
<rect x="509.25" y="1416.25" width="27.80" height="14.05" fill="#808080"/>
<rect x="536.75" y="1416.25" width="14.05" height="14.05" fill="#6c6c6c"/>
<rect x="550.50" y="1416.25" width="27.80" height="14.05" fill="#808080"/>
<rect x="578.00" y="1416.25" width="14.05" height="14.05" fill="#939393"/>
<rect x="591.75" y="1416.25" width="27.80" height="14.05" fill="#6c6c6c"/>
<rect x="619.25" y="1416.25" width="27.80" height="14.05" fill="#808080"/>
<rect x="646.75" y="1416.25" width="14.05" height="14.05" fill="#585858"/>
<rect x="660.50" y="1416.25" width="14.05" height="14.05" fill="#454545"/>
<rect x="674.25" y="1416.25" width="41.55" height="14.05" fill="#313131"/>
<rect x="715.50" y="1416.25" width="14.05" height="14.05" fill="#454545"/>
<rect x="729.25" y="1416.25" width="14.05" height="14.05" fill="#585858"/>
<rect x="743.00" y="1416.25" width="44.05" height="14.05" fill="#6c6c6c"/>
<rect x="314.25" y="1430.00" width="44.05" height="14.05" fill="#313131"/>
<rect x="358.00" y="1430.00" width="14.05" height="14.05" fill="#585858"/>
<rect x="371.75" y="1430.00" width="14.05" height="14.05" fill="#939393"/>
<rect x="385.50" y="1430.00" width="14.05" height="14.05" fill="#a7a7a7"/>
<rect x="399.25" y="1430.00" width="41.55" height="14.05" fill="#939393"/>
<rect x="440.50" y="1430.00" width="14.05" height="14.05" fill="#a7a7a7"/>
<rect x="454.25" y="1430.00" width="27.80" height="14.05" fill="#cecece"/>
<rect x="481.75" y="1430.00" width="14.05" height="14.05" fill="#939393"/>
<rect x="495.50" y="1430.00" width="27.80" height="14.05" fill="#808080"/>
<rect x="523.00" y="1430.00" width="41.55" height="14.05" fill="#6c6c6c"/>
<rect x="564.25" y="1430.00" width="27.80" height="14.05" fill="#939393"/>
<rect x="591.75" y="1430.00" width="14.05" height="14.05" fill="#808080"/>
<rect x="605.50" y="1430.00" width="14.05" height="14.05" fill="#6c6c6c"/>
<rect x="619.25" y="1430.00" width="14.05" height="14.05" fill="#808080"/>
<rect x="633.00" y="1430.00" width="14.05" height="14.05" fill="#939393"/>
<rect x="646.75" y="1430.00" width="14.05" height="14.05" fill="#6c6c6c"/>
<rect x="660.50" y="1430.00" width="14.05" height="14.05" fill="#313131"/>
<rect x="674.25" y="1430.00" width="14.05" height="14.05" fill="#1d1d1d"/>
<rect x="688.00" y="1430.00" width="14.05" height="14.05" fill="#313131"/>
<rect x="701.75" y="1430.00" width="14.05" height="14.05" fill="#454545"/>
<rect x="715.50" y="1430.00" width="71.55" height="14.05" fill="#6c6c6c"/>
<rect x="314.25" y="1443.75" width="44.05" height="14.05" fill="#313131"/>
<rect x="358.00" y="1443.75" width="14.05" height="14.05" fill="#6c6c6c"/>
<rect x="371.75" y="1443.75" width="14.05" height="14.05" fill="#939393"/>
<rect x="385.50" y="1443.75" width="14.05" height="14.05" fill="#bababa"/>
<rect x="399.25" y="1443.75" width="14.05" height="14.05" fill="#a7a7a7"/>
<rect x="413.00" y="1443.75" width="14.05" height="14.05" fill="#6c6c6c"/>
<rect x="426.75" y="1443.75" width="14.05" height="14.05" fill="#585858"/>
<rect x="440.50" y="1443.75" width="14.05" height="14.05" fill="#6c6c6c"/>
<rect x="454.25" y="1443.75" width="14.05" height="14.05" fill="#585858"/>
<rect x="468.00" y="1443.75" width="27.80" height="14.05" fill="#1d1d1d"/>
<rect x="495.50" y="1443.75" width="14.05" height="14.05" fill="#454545"/>
<rect x="509.25" y="1443.75" width="14.05" height="14.05" fill="#6c6c6c"/>
<rect x="523.00" y="1443.75" width="14.05" height="14.05" fill="#808080"/>
<rect x="536.75" y="1443.75" width="14.05" height="14.05" fill="#585858"/>
<rect x="550.50" y="1443.75" width="14.05" height="14.05" fill="#6c6c6c"/>
<rect x="564.25" y="1443.75" width="14.05" height="14.05" fill="#a7a7a7"/>
<rect x="578.00" y="1443.75" width="41.55" height="14.05" fill="#939393"/>
<rect x="619.25" y="1443.75" width="41.55" height="14.05" fill="#808080"/>
<rect x="660.50" y="1443.75" width="14.05" height="14.05" fill="#454545"/>
<rect x="674.25" y="1443.75" width="27.80" height="14.05" fill="#1d1d1d"/>
<rect x="701.75" y="1443.75" width="14.05" height="14.05" fill="#313131"/>
<rect x="715.50" y="1443.75" width="71.55" height="14.05" fill="#6c6c6c"/>
<rect x="314.25" y="1457.50" width="57.80" height="14.05" fill="#6c6c6c"/>
<rect x="371.75" y="1457.50" width="14.05" height="14.05" fill="#585858"/>
<rect x="385.50" y="1457.50" width="14.05" height="14.05" fill="#6c6c6c"/>
<rect x="399.25" y="1457.50" width="14.05" height="14.05" fill="#808080"/>
<rect x="413.00" y="1457.50" width="14.05" height="14.05" fill="#585858"/>
<rect x="426.75" y="1457.50" width="14.05" height="14.05" fill="#6c6c6c"/>
<rect x="440.50" y="1457.50" width="14.05" height="14.05" fill="#939393"/>
<rect x="454.25" y="1457.50" width="27.80" height="14.05" fill="#0a0a0a"/>
<rect x="481.75" y="1457.50" width="14.05" height="14.05" fill="#1d1d1d"/>
<rect x="495.50" y="1457.50" width="14.05" height="14.05" fill="#313131"/>
<rect x="509.25" y="1457.50" width="14.05" height="14.05" fill="#6c6c6c"/>
<rect x="523.00" y="1457.50" width="14.05" height="14.05" fill="#808080"/>
<rect x="536.75" y="1457.50" width="14.05" height="14.05" fill="#6c6c6c"/>
<rect x="550.50" y="1457.50" width="14.05" height="14.05" fill="#808080"/>
<rect x="564.25" y="1457.50" width="14.05" height="14.05" fill="#939393"/>
<rect x="578.00" y="1457.50" width="14.05" height="14.05" fill="#a7a7a7"/>
<rect x="591.75" y="1457.50" width="14.05" height="14.05" fill="#cecece"/>
<rect x="605.50" y="1457.50" width="14.05" height="14.05" fill="#a7a7a7"/>
<rect x="619.25" y="1457.50" width="14.05" height="14.05" fill="#6c6c6c"/>
<rect x="633.00" y="1457.50" width="27.80" height="14.05" fill="#808080"/>
<rect x="660.50" y="1457.50" width="14.05" height="14.05" fill="#6c6c6c"/>
<rect x="674.25" y="1457.50" width="14.05" height="14.05" fill="#454545"/>
<rect x="688.00" y="1457.50" width="14.05" height="14.05" fill="#313131"/>
<rect x="701.75" y="1457.50" width="14.05" height="14.05" fill="#1d1d1d"/>
<rect x="715.50" y="1457.50" width="14.05" height="14.05" fill="#313131"/>
<rect x="729.25" y="1457.50" width="57.80" height="14.05" fill="#6c6c6c"/>
<rect x="314.25" y="1471.25" width="71.55" height="14.05" fill="#313131"/>
<rect x="385.50" y="1471.25" width="14.05" height="14.05" fill="#454545"/>
<rect x="399.25" y="1471.25" width="14.05" height="14.05" fill="#585858"/>
<rect x="413.00" y="1471.25" width="14.05" height="14.05" fill="#454545"/>
<rect x="426.75" y="1471.25" width="14.05" height="14.05" fill="#939393"/>
<rect x="440.50" y="1471.25" width="14.05" height="14.05" fill="#e2e2e2"/>
<rect x="454.25" y="1471.25" width="14.05" height="14.05" fill="#454545"/>
<rect x="468.00" y="1471.25" width="41.55" height="14.05" fill="#313131"/>
<rect x="509.25" y="1471.25" width="14.05" height="14.05" fill="#808080"/>
<rect x="523.00" y="1471.25" width="27.80" height="14.05" fill="#6c6c6c"/>
<rect x="550.50" y="1471.25" width="14.05" height="14.05" fill="#939393"/>
<rect x="564.25" y="1471.25" width="14.05" height="14.05" fill="#a7a7a7"/>
<rect x="578.00" y="1471.25" width="14.05" height="14.05" fill="#939393"/>
<rect x="591.75" y="1471.25" width="14.05" height="14.05" fill="#a7a7a7"/>
<rect x="605.50" y="1471.25" width="14.05" height="14.05" fill="#808080"/>
<rect x="619.25" y="1471.25" width="27.80" height="14.05" fill="#585858"/>
<rect x="646.75" y="1471.25" width="14.05" height="14.05" fill="#808080"/>
<rect x="660.50" y="1471.25" width="14.05" height="14.05" fill="#bababa"/>
<rect x="674.25" y="1471.25" width="14.05" height="14.05" fill="#808080"/>
<rect x="688.00" y="1471.25" width="14.05" height="14.05" fill="#454545"/>
<rect x="701.75" y="1471.25" width="85.30" height="14.05" fill="#313131"/>
<rect x="314.25" y="1485.00" width="112.80" height="14.05" fill="#313131"/>
<rect x="426.75" y="1485.00" width="14.05" height="14.05" fill="#808080"/>
<rect x="440.50" y="1485.00" width="14.05" height="14.05" fill="#bababa"/>
<rect x="454.25" y="1485.00" width="14.05" height="14.05" fill="#585858"/>
<rect x="468.00" y="1485.00" width="27.80" height="14.05" fill="#313131"/>
<rect x="495.50" y="1485.00" width="14.05" height="14.05" fill="#454545"/>
<rect x="509.25" y="1485.00" width="14.05" height="14.05" fill="#6c6c6c"/>
<rect x="523.00" y="1485.00" width="14.05" height="14.05" fill="#808080"/>
<rect x="536.75" y="1485.00" width="14.05" height="14.05" fill="#6c6c6c"/>
<rect x="550.50" y="1485.00" width="27.80" height="14.05" fill="#808080"/>
<rect x="578.00" y="1485.00" width="14.05" height="14.05" fill="#585858"/>
<rect x="591.75" y="1485.00" width="14.05" height="14.05" fill="#808080"/>
<rect x="605.50" y="1485.00" width="14.05" height="14.05" fill="#a7a7a7"/>
<rect x="619.25" y="1485.00" width="14.05" height="14.05" fill="#454545"/>
<rect x="633.00" y="1485.00" width="14.05" height="14.05" fill="#313131"/>
<rect x="646.75" y="1485.00" width="14.05" height="14.05" fill="#6c6c6c"/>
<rect x="660.50" y="1485.00" width="14.05" height="14.05" fill="#cecece"/>
<rect x="674.25" y="1485.00" width="14.05" height="14.05" fill="#939393"/>
<rect x="688.00" y="1485.00" width="14.05" height="14.05" fill="#6c6c6c"/>
<rect x="701.75" y="1485.00" width="14.05" height="14.05" fill="#585858"/>
<rect x="715.50" y="1485.00" width="71.55" height="14.05" fill="#313131"/>
<rect x="314.25" y="1498.75" width="99.05" height="14.05" fill="#313131"/>
<rect x="413.00" y="1498.75" width="14.05" height="14.05" fill="#585858"/>
<rect x="426.75" y="1498.75" width="14.05" height="14.05" fill="#808080"/>
<rect x="440.50" y="1498.75" width="14.05" height="14.05" fill="#6c6c6c"/>
<rect x="454.25" y="1498.75" width="14.05" height="14.05" fill="#454545"/>
<rect x="468.00" y="1498.75" width="14.05" height="14.05" fill="#313131"/>
<rect x="481.75" y="1498.75" width="14.05" height="14.05" fill="#454545"/>
<rect x="495.50" y="1498.75" width="14.05" height="14.05" fill="#585858"/>
<rect x="509.25" y="1498.75" width="14.05" height="14.05" fill="#a7a7a7"/>
<rect x="523.00" y="1498.75" width="14.05" height="14.05" fill="#939393"/>
<rect x="536.75" y="1498.75" width="14.05" height="14.05" fill="#808080"/>
<rect x="550.50" y="1498.75" width="14.05" height="14.05" fill="#939393"/>
<rect x="564.25" y="1498.75" width="14.05" height="14.05" fill="#a7a7a7"/>
<rect x="578.00" y="1498.75" width="14.05" height="14.05" fill="#454545"/>
<rect x="591.75" y="1498.75" width="14.05" height="14.05" fill="#a7a7a7"/>
<rect x="605.50" y="1498.75" width="14.05" height="14.05" fill="#cecece"/>
<rect x="619.25" y="1498.75" width="14.05" height="14.05" fill="#6c6c6c"/>
<rect x="633.00" y="1498.75" width="14.05" height="14.05" fill="#454545"/>
<rect x="646.75" y="1498.75" width="14.05" height="14.05" fill="#6c6c6c"/>
<rect x="660.50" y="1498.75" width="27.80" height="14.05" fill="#808080"/>
<rect x="688.00" y="1498.75" width="14.05" height="14.05" fill="#6c6c6c"/>
<rect x="701.75" y="1498.75" width="27.80" height="14.05" fill="#585858"/>
<rect x="729.25" y="1498.75" width="57.80" height="14.05" fill="#313131"/>
<rect x="314.25" y="1512.50" width="99.05" height="14.05" fill="#313131"/>
<rect x="413.00" y="1512.50" width="41.55" height="14.05" fill="#6c6c6c"/>
<rect x="454.25" y="1512.50" width="14.05" height="14.05" fill="#808080"/>
<rect x="468.00" y="1512.50" width="14.05" height="14.05" fill="#6c6c6c"/>
<rect x="481.75" y="1512.50" width="14.05" height="14.05" fill="#585858"/>
<rect x="495.50" y="1512.50" width="14.05" height="14.05" fill="#6c6c6c"/>
<rect x="509.25" y="1512.50" width="14.05" height="14.05" fill="#939393"/>
<rect x="523.00" y="1512.50" width="14.05" height="14.05" fill="#808080"/>
<rect x="536.75" y="1512.50" width="14.05" height="14.05" fill="#a7a7a7"/>
<rect x="550.50" y="1512.50" width="14.05" height="14.05" fill="#808080"/>
<rect x="564.25" y="1512.50" width="14.05" height="14.05" fill="#585858"/>
<rect x="578.00" y="1512.50" width="14.05" height="14.05" fill="#6c6c6c"/>
<rect x="591.75" y="1512.50" width="14.05" height="14.05" fill="#bababa"/>
<rect x="605.50" y="1512.50" width="14.05" height="14.05" fill="#cecece"/>
<rect x="619.25" y="1512.50" width="14.05" height="14.05" fill="#939393"/>
<rect x="633.00" y="1512.50" width="41.55" height="14.05" fill="#6c6c6c"/>
<rect x="674.25" y="1512.50" width="14.05" height="14.05" fill="#808080"/>
<rect x="688.00" y="1512.50" width="27.80" height="14.05" fill="#6c6c6c"/>
<rect x="715.50" y="1512.50" width="27.80" height="14.05" fill="#585858"/>
<rect x="743.00" y="1512.50" width="44.05" height="14.05" fill="#313131"/>
<rect x="314.25" y="1526.25" width="85.30" height="14.05" fill="#313131"/>
<rect x="399.25" y="1526.25" width="27.80" height="14.05" fill="#6c6c6c"/>
<rect x="426.75" y="1526.25" width="14.05" height="14.05" fill="#313131"/>
<rect x="440.50" y="1526.25" width="14.05" height="14.05" fill="#454545"/>
<rect x="454.25" y="1526.25" width="14.05" height="14.05" fill="#808080"/>
<rect x="468.00" y="1526.25" width="14.05" height="14.05" fill="#a7a7a7"/>
<rect x="481.75" y="1526.25" width="14.05" height="14.05" fill="#939393"/>
<rect x="495.50" y="1526.25" width="27.80" height="14.05" fill="#808080"/>
<rect x="523.00" y="1526.25" width="14.05" height="14.05" fill="#6c6c6c"/>
<rect x="536.75" y="1526.25" width="14.05" height="14.05" fill="#bababa"/>
<rect x="550.50" y="1526.25" width="14.05" height="14.05" fill="#939393"/>
<rect x="564.25" y="1526.25" width="14.05" height="14.05" fill="#6c6c6c"/>
<rect x="578.00" y="1526.25" width="14.05" height="14.05" fill="#808080"/>
<rect x="591.75" y="1526.25" width="27.80" height="14.05" fill="#a7a7a7"/>
<rect x="619.25" y="1526.25" width="27.80" height="14.05" fill="#6c6c6c"/>
<rect x="646.75" y="1526.25" width="14.05" height="14.05" fill="#454545"/>
<rect x="660.50" y="1526.25" width="14.05" height="14.05" fill="#585858"/>
<rect x="674.25" y="1526.25" width="27.80" height="14.05" fill="#808080"/>
<rect x="701.75" y="1526.25" width="27.80" height="14.05" fill="#6c6c6c"/>
<rect x="729.25" y="1526.25" width="57.80" height="14.05" fill="#585858"/>
<rect x="314.25" y="1540.00" width="71.55" height="14.05" fill="#313131"/>
<rect x="385.50" y="1540.00" width="27.80" height="14.05" fill="#6c6c6c"/>
<rect x="413.00" y="1540.00" width="27.80" height="14.05" fill="#313131"/>
<rect x="440.50" y="1540.00" width="14.05" height="14.05" fill="#454545"/>
<rect x="454.25" y="1540.00" width="14.05" height="14.05" fill="#585858"/>
<rect x="468.00" y="1540.00" width="14.05" height="14.05" fill="#6c6c6c"/>
<rect x="481.75" y="1540.00" width="14.05" height="14.05" fill="#808080"/>
<rect x="495.50" y="1540.00" width="14.05" height="14.05" fill="#6c6c6c"/>
<rect x="509.25" y="1540.00" width="27.80" height="14.05" fill="#454545"/>
<rect x="536.75" y="1540.00" width="14.05" height="14.05" fill="#a7a7a7"/>
<rect x="550.50" y="1540.00" width="27.80" height="14.05" fill="#939393"/>
<rect x="578.00" y="1540.00" width="27.80" height="14.05" fill="#cecece"/>
<rect x="605.50" y="1540.00" width="14.05" height="14.05" fill="#a7a7a7"/>
<rect x="619.25" y="1540.00" width="14.05" height="14.05" fill="#808080"/>
<rect x="633.00" y="1540.00" width="14.05" height="14.05" fill="#6c6c6c"/>
<rect x="646.75" y="1540.00" width="14.05" height="14.05" fill="#454545"/>
<rect x="660.50" y="1540.00" width="27.80" height="14.05" fill="#585858"/>
<rect x="688.00" y="1540.00" width="27.80" height="14.05" fill="#808080"/>
<rect x="715.50" y="1540.00" width="27.80" height="14.05" fill="#6c6c6c"/>
<rect x="743.00" y="1540.00" width="44.05" height="14.05" fill="#585858"/>
<rect x="314.25" y="1553.75" width="57.80" height="44.05" fill="#313131"/>
<rect x="371.75" y="1553.75" width="27.80" height="44.05" fill="#6c6c6c"/>
<rect x="399.25" y="1553.75" width="27.80" height="44.05" fill="#313131"/>
<rect x="426.75" y="1553.75" width="27.80" height="44.05" fill="#454545"/>
<rect x="454.25" y="1553.75" width="14.05" height="44.05" fill="#585858"/>
<rect x="468.00" y="1553.75" width="14.05" height="44.05" fill="#6c6c6c"/>
<rect x="481.75" y="1553.75" width="14.05" height="44.05" fill="#585858"/>
<rect x="495.50" y="1553.75" width="14.05" height="44.05" fill="#454545"/>
<rect x="509.25" y="1553.75" width="14.05" height="44.05" fill="#313131"/>
<rect x="523.00" y="1553.75" width="14.05" height="44.05" fill="#454545"/>
<rect x="536.75" y="1553.75" width="14.05" height="44.05" fill="#939393"/>
<rect x="550.50" y="1553.75" width="14.05" height="44.05" fill="#808080"/>
<rect x="564.25" y="1553.75" width="14.05" height="44.05" fill="#939393"/>
<rect x="578.00" y="1553.75" width="14.05" height="44.05" fill="#cecece"/>
<rect x="591.75" y="1553.75" width="14.05" height="44.05" fill="#bababa"/>
<rect x="605.50" y="1553.75" width="14.05" height="44.05" fill="#939393"/>
<rect x="619.25" y="1553.75" width="14.05" height="44.05" fill="#808080"/>
<rect x="633.00" y="1553.75" width="14.05" height="44.05" fill="#6c6c6c"/>
<rect x="646.75" y="1553.75" width="27.80" height="44.05" fill="#454545"/>
<rect x="674.25" y="1553.75" width="27.80" height="44.05" fill="#585858"/>
<rect x="701.75" y="1553.75" width="27.80" height="44.05" fill="#808080"/>
<rect x="729.25" y="1553.75" width="57.80" height="44.05" fill="#6c6c6c"/>
</g>
<circle cx="385.7" cy="1346.0" r="3.2" fill="#d6d6d6"/>
</g>
<g fill="none" stroke="#b0b0b0" stroke-width="1.7"><circle cx="551.00" cy="1362.15" r="24.71"/><circle cx="551.00" cy="1362.15" r="49.52"/><circle cx="551.00" cy="1362.15" r="74.51"/><circle cx="551.00" cy="1362.15" r="99.80"/><circle cx="551.00" cy="1362.15" r="125.47"/><circle cx="551.00" cy="1362.15" r="151.65"/><circle cx="551.00" cy="1362.15" r="178.45"/><path d="M551.00 1156.15 L551.00 1568.15"/><path d="M372.60 1259.15 L729.40 1465.15"/><path d="M372.60 1465.15 L729.40 1259.15"/></g>
<g transform="translate(0 495.00)"><path d="M383.5 746.6 L390.5 740.6 L389.5 743.3 L394.9 746.0 L398.1 748.2 L401.4 746.6 L405.7 748.2 L411.1 748.8 L419.8 750.9 L426.3 752.0 L433.8 754.2 L439.2 749.3 L447.9 748.2 L456.6 746.6 L464.1 743.3 L471.7 742.8 L472.8 739.6 L470.6 735.8 L473.9 731.4 L476.6 729.3 L478.8 731.4 M404.6 737.9 L413.3 738.5 L416.5 741.2 L413.3 744.4 L408.9 739.6 Z M473.9 717.4 L476.0 714.7 L478.8 715.7 L478.2 720.1 L475.5 721.7 L473.9 719.0 Z M482.0 720.6 L484.2 713.0 L488.5 705.5 L493.9 697.9 L500.4 692.5 L503.6 691.4 L498.2 696.8 L492.8 705.5 L488.5 714.1 L489.6 720.6 L493.9 718.4 L498.2 716.3 L501.5 715.7 L502.6 720.6 L509.1 720.6 L514.5 719.0 L516.6 727.1 L513.4 735.8 L508.0 740.1 L509.1 746.6 L514.5 743.3 L521.0 742.8 L525.3 746.6 L517.7 754.2 L514.5 752.0 L513.4 754.2 L518.8 756.3 L523.1 760.7 L526.4 761.7 L523.1 768.2 L519.9 774.7 L514.5 780.1 L509.1 780.7 L503.6 782.3 L498.2 783.4 L490.7 786.6 L482.0 789.9 M524.2 734.1 L528.5 733.1 L531.8 734.7 L529.6 736.3 L525.3 735.8 Z M620.0 689.2 L615.1 690.3 L610.8 694.6 L605.4 697.9 L600.0 703.3 L601.1 707.6 L596.7 714.1 L590.2 719.0 L583.7 718.4 L579.4 720.1 L576.2 717.9 L571.8 720.6 L564.3 724.9 L557.8 728.2 L552.4 727.6 L553.4 733.6 L556.7 738.5 L551.3 740.6 L549.6 746.6 L546.9 743.3 L542.1 742.3 L537.2 737.9 L534.5 740.6 L530.7 746.6 L532.9 750.9 L537.2 752.5 L541.0 752.0 L539.4 748.8 L542.6 754.2 L546.9 758.5 L551.3 760.7 L555.6 764.4 L562.1 766.6 L567.5 765.5 L569.7 762.3 L574.0 767.2 L579.4 769.3 L585.9 771.5 L585.9 776.9 L591.3 780.1 L595.6 783.4 L596.7 789.9 L601.1 794.2 L603.2 798.0 M547.5 772.6 L550.2 770.9 L553.4 772.0 L551.3 774.7 L548.0 774.2 Z M620.0 712.0 L611.9 715.2 L604.3 720.6 L595.6 724.9 L588.6 733.1 L594.6 730.4 L601.1 727.1 L602.1 733.6 L608.1 734.1 L616.2 729.8 L620.0 727.6 M619.0 689.2 L623.3 686.0 L630.4 682.2 L629.3 692.5 L626.6 702.2 L622.2 709.8 L619.0 713.0 M619.0 724.9 L625.5 726.6 L627.1 731.4 L633.1 733.6 L640.6 737.9 L647.1 742.3 L654.7 741.2 L664.5 740.1 L675.3 739.0 L678.0 737.9 L676.9 730.4 L673.1 727.1 L669.9 721.7 L671.0 712.0 L673.1 702.2 M676.4 705.5 L674.2 714.1 L668.8 719.5 L663.4 722.2 L662.3 720.6 L666.6 712.0 L671.0 703.3 M353.7 904.1 L358.1 897.6 L365.6 893.2 L372.1 892.2 L373.2 884.6 L377.6 874.8 L381.9 867.3 L383.0 861.9 L390.5 858.6 L394.9 855.4 L402.4 856.4 L408.9 860.8 L414.4 866.2 L419.8 868.4 L423.0 873.8 L428.4 875.9 L432.8 877.0 L433.8 882.4 L438.2 884.6 L444.7 882.4 L451.2 880.3 L450.1 873.8 M353.7 904.1 L360.2 906.2 L368.9 901.9 L373.2 899.7 L377.6 904.1 L385.1 907.3 L391.6 903.0 L394.9 899.7 L400.3 900.8 L404.6 898.7 L411.1 897.6 L414.4 898.7 L415.4 906.2 L413.3 912.7 L411.1 918.1 L404.6 922.5 L401.4 926.8 L404.6 932.2 L411.1 932.2 M420.8 910.6 L424.1 905.2 L426.3 900.8 L424.1 895.4 L427.3 894.3 L430.6 900.8 L437.1 901.9 L443.6 900.8 L447.9 895.4 L452.2 891.1 L457.6 907.3 L451.2 909.5 L449.0 917.1 L445.7 922.5 L439.2 923.6 L440.3 916.0 L437.1 913.8 L432.8 920.3 L428.4 925.7 L424.1 921.4 L426.3 917.1 L421.9 925.7 L419.8 919.2 Z M440.3 855.4 L443.6 845.6 L441.4 841.3 L446.8 833.7 L443.6 830.5 L447.9 821.8 L456.6 818.6 L463.1 816.4 L467.4 811.0 L473.9 806.7 M437.1 873.8 L443.6 867.3 L447.9 864.0 L452.2 858.6 L458.7 856.4 L452.2 867.3 L463.1 867.3 L469.6 873.8 L468.5 884.6 L465.2 887.8 L460.9 896.5 L459.8 901.9 L454.4 907.3 M470.6 816.4 L477.1 814.2 L482.0 819.6 M458.7 853.2 L464.1 848.9 L470.6 851.0 L468.5 856.4 L460.9 857.5 Z M463.1 830.5 L468.5 824.0 L473.9 826.1 L476.0 830.5 L470.6 839.1 L463.1 839.1 Z M439.2 893.2 L443.6 892.7 L445.7 895.4 L442.5 897.6 Z M410.0 884.6 L412.7 882.4 L414.4 886.8 L412.2 887.8 Z M482.0 927.3 L478.2 929.0 L476.6 934.4 L475.5 936.0 M482.0 868.4 L488.5 872.7 L492.8 868.4 L492.8 865.1 L499.3 862.4 L505.8 864.0 L510.1 867.3 L514.5 871.6 L517.7 877.0 L518.8 883.5 L514.5 885.7 L509.1 884.6 L503.6 886.2 L499.3 883.5 L493.9 884.6 L492.3 890.0 L488.5 889.5 L486.3 893.2 L487.4 899.7 L488.5 906.2 L484.2 912.7 L482.0 914.9 M503.6 886.2 L509.1 887.8 L515.6 887.3 L519.9 892.2 L522.0 896.5 L524.2 893.2 L530.7 893.2 L536.1 896.5 L538.3 901.9 L534.0 903.5 L536.1 907.3 L540.4 907.3 L541.5 910.6 L536.1 913.8 L532.9 919.2 L530.7 925.7 L527.5 930.0 L527.5 936.0 M490.7 831.6 L493.9 830.5 L496.1 837.0 L493.9 840.2 L491.2 835.9 Z M492.8 844.5 L498.2 845.6 L497.2 848.3 L493.9 846.7 Z M492.8 856.4 L498.2 853.2 L499.3 854.3 L495.0 858.1 Z M482.0 820.7 L486.3 822.9 L484.2 827.2 L482.0 826.1 M482.0 833.7 L487.4 835.9 L489.6 840.2 L485.2 844.5 L482.0 841.3 M482.0 854.3 L485.2 858.6 L484.2 864.0 L482.0 862.9 M489.6 861.9 L495.0 859.7 L493.9 861.9 L489.6 862.9 Z M561.0 918.1 L566.4 912.7 L571.8 911.1 L574.0 914.9 L570.8 917.1 L568.6 916.0 L569.7 922.5 L570.8 927.9 L568.6 931.1 L565.3 925.7 L562.1 922.5 Z M571.8 922.5 L575.1 921.4 L576.2 924.6 L574.0 925.7 Z M584.3 899.7 L586.4 897.0 L587.5 899.2 L585.4 901.4 Z M595.1 863.5 L600.0 860.2 L604.3 857.0 L608.1 852.7 L610.3 857.0 L604.3 858.6 L605.4 864.0 L600.0 866.2 Z M589.2 802.3 L592.4 806.7 L595.6 813.2 L598.9 815.3 L601.6 812.1 L598.9 808.8 L594.6 805.6 L591.3 802.3 Z M601.1 801.2 L603.2 800.2 L604.8 802.3 L602.7 804.0 Z M620.0 837.0 L616.2 839.1 L613.5 843.5 L614.0 848.9 L611.3 851.6 L616.2 854.3 L620.0 857.5 M620.0 912.7 L617.3 906.2 L615.7 899.7 L614.6 892.7 L611.9 893.2 L612.4 899.7 L615.1 910.6 L620.0 920.3 M619.0 804.5 L623.3 804.5 L623.3 808.8 L619.0 812.1 M619.0 821.3 L623.3 822.4 L624.4 829.4 L627.7 835.3 L624.4 841.3 L622.2 838.0 L619.0 834.8 M619.0 858.6 L622.2 862.9 L625.5 867.3 L629.8 872.7 L632.0 879.2 L635.2 881.9 L641.2 881.3 L638.5 884.6 L639.0 890.0 L642.8 890.5 L634.2 891.1 L632.0 895.4 L635.2 900.8 L640.6 906.2 L647.1 908.4 L653.6 906.2 L650.4 911.6 L643.9 917.1 L642.3 923.6 L639.6 931.1 L636.9 936.0 M632.0 895.4 L640.6 894.3 L650.4 897.6 L654.7 896.0 L660.1 896.5 L664.5 901.9 L665.5 906.2 L662.3 903.5 L656.9 899.7 L649.3 899.2 L642.8 898.1 L636.3 898.7 Z M619.0 910.6 L623.3 917.1 L628.7 921.4 L632.5 920.3 L629.8 924.6 L623.3 925.2 L619.0 919.2 M412.2 935.0 L408.9 940.4 L404.6 946.9 L399.2 949.6 L398.1 954.5 L397.0 966.4 L394.9 972.9 L391.6 976.7 L387.3 978.3 L380.8 977.8 L376.5 972.3 L374.3 971.3 M378.6 978.3 L387.3 979.4 L385.1 981.5 L379.7 981.5 Z M458.7 935.0 L452.2 940.4 L447.9 946.9 L444.7 954.5 L441.4 961.0 L440.3 966.4 L443.6 970.7 L444.1 977.8 L447.9 977.2 L455.5 970.7 L463.1 968.6 L467.4 964.2 L471.7 962.6 L477.1 963.7 L482.0 964.8 M526.4 935.0 L525.3 939.3 L523.1 942.6 L520.4 943.7 L518.8 946.4 L516.6 948.0 L514.5 952.3 L513.9 957.2 L511.2 957.7 L510.7 953.9 L508.0 957.7 L501.5 963.1 L496.1 964.2 L488.5 962.1 L482.0 965.3 M500.9 979.9 L503.6 978.3 L506.9 980.5 L510.1 982.6 L514.5 981.5 L519.9 983.2 L521.0 988.0 L517.7 992.4 L512.3 994.0 L508.0 995.1 L504.2 992.4 L500.4 988.0 L502.6 984.8 Z M620.0 952.3 L611.9 953.9 L604.3 955.0 L601.1 951.8 L596.7 951.2 L591.3 954.5 L590.2 959.4 L584.8 963.1 L581.6 971.8 L578.3 983.7 L575.6 993.4 L570.8 1001.0 L565.3 1006.4 L562.6 1012.9 L564.3 1020.5 L566.4 1027.0 L570.8 1029.7 L575.1 1028.1 L579.4 1021.6 L583.7 1028.1 L589.2 1038.9 L590.2 1041.6 L585.9 1038.9 L583.7 1042.2 L589.2 1046.5 L595.6 1046.5 L598.9 1038.9 L598.9 1027.0 L600.0 1015.1 L595.6 1009.7 L593.5 999.9 L596.7 989.1 L598.4 981.5 L601.1 979.4 L604.3 980.5 L602.1 991.3 L602.1 997.8 L605.4 1004.3 L611.9 1007.5 L620.0 1004.3 M576.2 1034.6 L580.5 1030.8 L582.1 1034.6 L581.6 1038.9 L579.4 1044.3 L576.2 1043.2 L575.6 1037.8 Z M577.2 1047.6 L579.4 1051.9 L574.0 1054.1 L567.5 1057.3 L564.3 1062.7 L559.9 1066.0 L556.7 1070.3 L553.4 1071.9 M582.7 1046.5 L588.1 1049.7 L594.6 1047.6 L596.7 1048.6 L604.3 1043.2 L611.9 1040.0 L613.0 1037.8 L620.0 1034.6 M550.2 1053.0 L549.1 1049.7 L545.9 1046.5 L541.5 1042.2 L544.8 1038.9 L544.8 1033.5 L539.4 1033.5 L542.6 1028.6 L537.2 1028.1 L534.0 1032.4 L532.9 1037.8 L536.1 1042.2 L534.0 1045.4 L539.4 1049.7 L541.5 1054.1 L538.3 1057.3 L535.0 1055.1 L536.1 1060.6 L534.0 1063.8 L538.3 1067.0 L534.0 1069.8 M528.5 1045.4 L532.3 1049.7 L530.7 1056.2 L526.4 1061.6 L521.0 1064.3 L517.2 1062.7 L519.9 1058.4 L519.3 1051.9 L523.1 1047.6 Z M620.0 1010.8 L615.1 1012.9 L614.0 1018.3 L617.3 1021.6 L613.0 1024.8 L614.0 1032.4 L616.2 1034.6 L620.0 1032.4 M635.2 935.0 L636.3 939.3 L636.9 945.8 L634.2 949.1 L629.8 945.3 L626.6 946.4 L628.7 950.2 L633.1 953.9 L630.4 961.0 L630.9 966.4 L626.6 967.5 L629.8 973.4 L625.5 974.0 M619.0 951.2 L624.4 956.6 L626.6 963.1 L623.3 966.4 L619.0 968.6 M619.0 1002.1 L623.3 1001.0 L625.0 1004.3 L621.2 1007.5 L619.0 1006.4 Z" fill="none" stroke="#000" stroke-width="0.7" stroke-linejoin="round" opacity="0.85"/></g>
</g>
<circle cx="550.30" cy="1361.10" r="206.00" fill="none" stroke="#000" stroke-width="1.7"/>
<text x="344.25" y="152.5" style="font-size:18.75px">ls4p-custom8_TOFD-mem1</text>
<text x="344.25" y="647.5" style="font-size:18.75px">MERRA2 Reanalysis (1980-2016)</text>
<text x="550.5" y="1142.5" text-anchor="middle" style="font-size:23.96px">Model - Observation</text>
<text x="756.7" y="152.50" text-anchor="end" style="font-size:18.75px">mm/day</text>
<text x="756.7" y="647.50" text-anchor="end" style="font-size:18.75px">mm/day</text>
<text x="756.7" y="1142.50" text-anchor="end" style="font-size:18.75px">mm/day</text>
<text x="790.5" y="161.95" style="font-size:18.75px">Max</text>
<text x="918" y="161.95" text-anchor="end" style="font-size:18.75px">6.04</text>
<text x="790.5" y="183.85" style="font-size:18.75px">Mean</text>
<text x="918" y="183.85" text-anchor="end" style="font-size:18.75px">1.56</text>
<text x="790.5" y="205.75" style="font-size:18.75px">Min</text>
<text x="918" y="205.75" text-anchor="end" style="font-size:18.75px">0.07</text>
<text x="790.5" y="656.95" style="font-size:18.75px">Max</text>
<text x="918" y="656.95" text-anchor="end" style="font-size:18.75px">8.20</text>
<text x="790.5" y="678.85" style="font-size:18.75px">Mean</text>
<text x="918" y="678.85" text-anchor="end" style="font-size:18.75px">1.82</text>
<text x="790.5" y="700.75" style="font-size:18.75px">Min</text>
<text x="918" y="700.75" text-anchor="end" style="font-size:18.75px">0.21</text>
<text x="790.5" y="1151.95" style="font-size:18.75px">Max</text>
<text x="918" y="1151.95" text-anchor="end" style="font-size:18.75px">3.56</text>
<text x="790.5" y="1173.85" style="font-size:18.75px">Mean</text>
<text x="918" y="1173.85" text-anchor="end" style="font-size:18.75px">-0.26</text>
<text x="790.5" y="1195.75" style="font-size:18.75px">Min</text>
<text x="918" y="1195.75" text-anchor="end" style="font-size:18.75px">-5.24</text>
<rect x="790.50" y="236.65" width="41.57" height="27.28" fill="#94151b"/>
<rect x="790.50" y="263.53" width="41.57" height="27.28" fill="#c91d26"/>
<rect x="790.50" y="290.41" width="41.57" height="27.28" fill="#e8502a"/>
<rect x="790.50" y="317.29" width="41.57" height="27.28" fill="#f6983a"/>
<rect x="790.50" y="344.17" width="41.57" height="27.28" fill="#e0e05c"/>
<rect x="790.50" y="371.05" width="41.57" height="27.28" fill="#5dba47"/>
<rect x="790.50" y="397.93" width="41.57" height="27.28" fill="#489b9e"/>
<rect x="790.50" y="424.81" width="41.57" height="27.28" fill="#6eb1df"/>
<rect x="790.50" y="451.69" width="41.57" height="27.28" fill="#b7e3f9"/>
<rect x="790.50" y="478.57" width="41.57" height="27.28" fill="#ffffff"/>
<path d="M790.50 237.15 L811.29 223.41 L832.07 237.15 Z" fill="#94151b"/>
<path d="M790.50 505.35 L811.29 519.09 L832.07 505.35 Z" fill="#ffffff"/>
<path d="M790.50 236.85 L811.29 223.41 L832.07 236.85 L832.07 505.65 L811.29 519.09 L790.50 505.65 Z" fill="none" stroke="#000" stroke-width="1.67" stroke-linejoin="miter"/>
<path d="M832.07 236.85 h4.5 M832.07 505.65 h4.5" stroke="#000" stroke-width="1.2"/>
<text x="884.0" y="486.47" text-anchor="end" style="font-size:18.45px">0.5</text>
<text x="884.0" y="459.59" text-anchor="end" style="font-size:18.45px">1.0</text>
<text x="884.0" y="432.71" text-anchor="end" style="font-size:18.45px">1.5</text>
<text x="884.0" y="405.83" text-anchor="end" style="font-size:18.45px">2.0</text>
<text x="884.0" y="378.95" text-anchor="end" style="font-size:18.45px">3.0</text>
<text x="884.0" y="352.07" text-anchor="end" style="font-size:18.45px">4.0</text>
<text x="884.0" y="325.19" text-anchor="end" style="font-size:18.45px">5.0</text>
<text x="884.0" y="298.31" text-anchor="end" style="font-size:18.45px">7.5</text>
<text x="884.0" y="271.43" text-anchor="end" style="font-size:18.45px">10.0</text>
<rect x="790.50" y="731.65" width="41.57" height="27.28" fill="#94151b"/>
<rect x="790.50" y="758.53" width="41.57" height="27.28" fill="#c91d26"/>
<rect x="790.50" y="785.41" width="41.57" height="27.28" fill="#e8502a"/>
<rect x="790.50" y="812.29" width="41.57" height="27.28" fill="#f6983a"/>
<rect x="790.50" y="839.17" width="41.57" height="27.28" fill="#e0e05c"/>
<rect x="790.50" y="866.05" width="41.57" height="27.28" fill="#5dba47"/>
<rect x="790.50" y="892.93" width="41.57" height="27.28" fill="#489b9e"/>
<rect x="790.50" y="919.81" width="41.57" height="27.28" fill="#6eb1df"/>
<rect x="790.50" y="946.69" width="41.57" height="27.28" fill="#b7e3f9"/>
<rect x="790.50" y="973.57" width="41.57" height="27.28" fill="#ffffff"/>
<path d="M790.50 732.15 L811.29 718.41 L832.07 732.15 Z" fill="#94151b"/>
<path d="M790.50 1000.35 L811.29 1014.09 L832.07 1000.35 Z" fill="#ffffff"/>
<path d="M790.50 731.85 L811.29 718.41 L832.07 731.85 L832.07 1000.65 L811.29 1014.09 L790.50 1000.65 Z" fill="none" stroke="#000" stroke-width="1.67" stroke-linejoin="miter"/>
<path d="M832.07 731.85 h4.5 M832.07 1000.65 h4.5" stroke="#000" stroke-width="1.2"/>
<text x="884.0" y="981.47" text-anchor="end" style="font-size:18.45px">0.5</text>
<text x="884.0" y="954.59" text-anchor="end" style="font-size:18.45px">1.0</text>
<text x="884.0" y="927.71" text-anchor="end" style="font-size:18.45px">1.5</text>
<text x="884.0" y="900.83" text-anchor="end" style="font-size:18.45px">2.0</text>
<text x="884.0" y="873.95" text-anchor="end" style="font-size:18.45px">3.0</text>
<text x="884.0" y="847.07" text-anchor="end" style="font-size:18.45px">4.0</text>
<text x="884.0" y="820.19" text-anchor="end" style="font-size:18.45px">5.0</text>
<text x="884.0" y="793.31" text-anchor="end" style="font-size:18.45px">7.5</text>
<text x="884.0" y="766.43" text-anchor="end" style="font-size:18.45px">10.0</text>
<rect x="790.50" y="1226.65" width="41.57" height="21.08" fill="#003c30"/>
<rect x="790.50" y="1247.33" width="41.57" height="21.08" fill="#016058"/>
<rect x="790.50" y="1268.00" width="41.57" height="21.08" fill="#258880"/>
<rect x="790.50" y="1288.68" width="41.57" height="21.08" fill="#5bb3a8"/>
<rect x="790.50" y="1309.36" width="41.57" height="21.08" fill="#98d7cd"/>
<rect x="790.50" y="1330.03" width="41.57" height="21.08" fill="#d0ece8"/>
<rect x="790.50" y="1350.71" width="41.57" height="21.08" fill="#f5f5f4"/>
<rect x="790.50" y="1371.39" width="41.57" height="21.08" fill="#f6eacb"/>
<rect x="790.50" y="1392.07" width="41.57" height="21.08" fill="#e7cf94"/>
<rect x="790.50" y="1412.74" width="41.57" height="21.08" fill="#cea053"/>
<rect x="790.50" y="1433.42" width="41.57" height="21.08" fill="#ad7021"/>
<rect x="790.50" y="1454.10" width="41.57" height="21.08" fill="#824b09"/>
<rect x="790.50" y="1474.77" width="41.57" height="21.08" fill="#543005"/>
<path d="M790.50 1227.15 L811.29 1213.41 L832.07 1227.15 Z" fill="#003c30"/>
<path d="M790.50 1495.35 L811.29 1509.09 L832.07 1495.35 Z" fill="#543005"/>
<path d="M790.50 1226.85 L811.29 1213.41 L832.07 1226.85 L832.07 1495.65 L811.29 1509.09 L790.50 1495.65 Z" fill="none" stroke="#000" stroke-width="1.67" stroke-linejoin="miter"/>
<path d="M832.07 1226.85 h4.5 M832.07 1495.65 h4.5" stroke="#000" stroke-width="1.2"/>
<text x="884.0" y="1482.67" text-anchor="end" style="font-size:18.45px">-2.00</text>
<text x="884.0" y="1462.00" text-anchor="end" style="font-size:18.45px">-1.50</text>
<text x="884.0" y="1441.32" text-anchor="end" style="font-size:18.45px">-1.00</text>
<text x="884.0" y="1420.64" text-anchor="end" style="font-size:18.45px">-0.75</text>
<text x="884.0" y="1399.97" text-anchor="end" style="font-size:18.45px">-0.50</text>
<text x="884.0" y="1379.29" text-anchor="end" style="font-size:18.45px">-0.25</text>
<text x="884.0" y="1358.61" text-anchor="end" style="font-size:18.45px">0.25</text>
<text x="884.0" y="1337.93" text-anchor="end" style="font-size:18.45px">0.50</text>
<text x="884.0" y="1317.26" text-anchor="end" style="font-size:18.45px">0.75</text>
<text x="884.0" y="1296.58" text-anchor="end" style="font-size:18.45px">1.00</text>
<text x="884.0" y="1275.90" text-anchor="end" style="font-size:18.45px">1.50</text>
<text x="884.0" y="1255.23" text-anchor="end" style="font-size:18.45px">2.00</text>
<text x="790.5" y="1545.60" style="font-size:18.75px">RMSE</text>
<text x="918" y="1545.60" text-anchor="end" style="font-size:18.75px">0.86</text>
<text x="790.5" y="1567.50" style="font-size:18.75px">CORR</text>
<text x="918" y="1567.50" text-anchor="end" style="font-size:18.75px">0.55</text>
</svg></body></html>
